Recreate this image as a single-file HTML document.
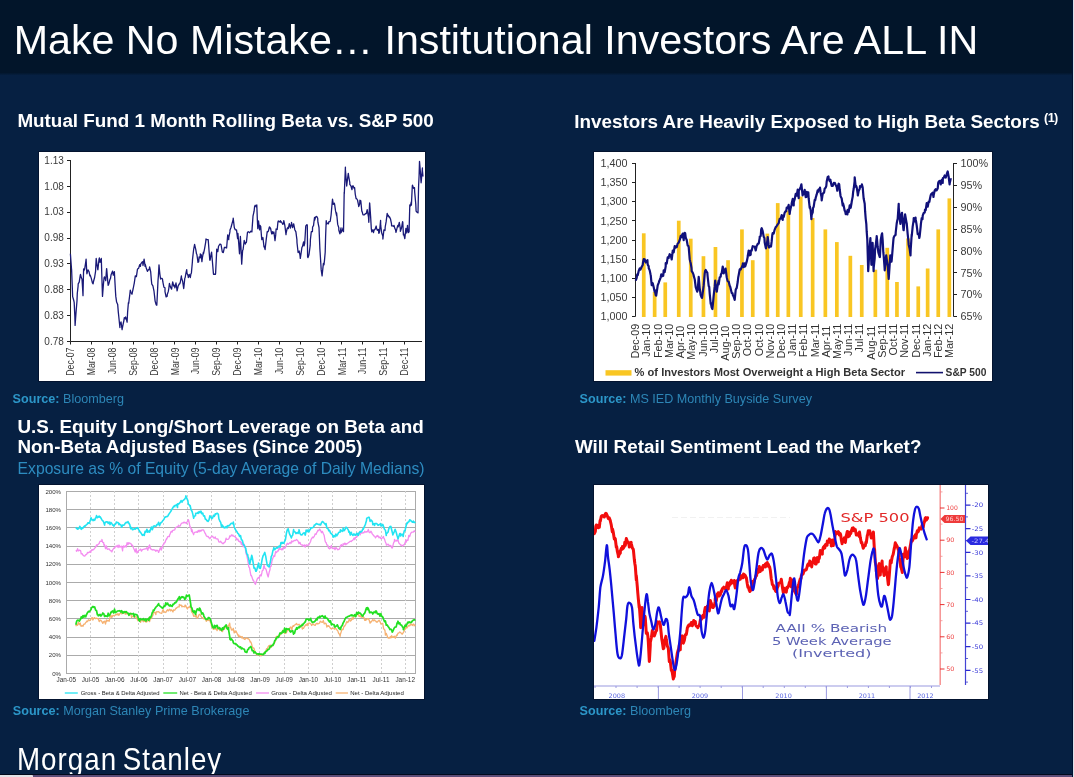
<!DOCTYPE html>
<html lang="en">
<head>
<meta charset="utf-8">
<title>Make No Mistake… Institutional Investors Are ALL IN</title>
<style>
html,body{margin:0;padding:0;}
body{width:1074px;height:777px;position:relative;overflow:hidden;background:#062042;font-family:"Liberation Sans",sans-serif;color:#fff;}
.hdr{position:absolute;left:0;top:0;width:1074px;height:76px;background:linear-gradient(#02152a 0,#02152a 72.5px,#062042 75.5px);}
.title{position:absolute;left:13.7px;top:17px;font-size:41.2px;line-height:46px;white-space:nowrap;color:#fff;letter-spacing:0px;}
.h2{position:absolute;font-weight:bold;font-size:18.85px;line-height:20.1px;white-space:nowrap;color:#fff;}
.sub{position:absolute;font-size:15.7px;line-height:17px;white-space:nowrap;color:#2d8cc0;}
.src{position:absolute;font-size:12.6px;line-height:14px;white-space:nowrap;color:#2d86b6;}
.src b{font-weight:bold;color:#2c96c8;}
.chart{position:absolute;background:#fff;overflow:hidden;box-shadow:0 0 0 0.8px rgba(0,6,28,.6);}
.aa{position:absolute;left:0;top:0;width:1074px;height:777px;will-change:transform;}
.chart svg{position:absolute;left:0;top:0;}
.logo{position:absolute;left:16.7px;top:741.4px;font-size:31.5px;line-height:36px;white-space:nowrap;color:#fff;transform-origin:0 0;transform:scaleX(0.88);word-spacing:-3.5px;letter-spacing:1.15px;}
.botline{position:absolute;left:0;top:773.8px;width:1074px;height:3.2px;background:linear-gradient(#010a1c 0,#010a1c 0.9px,#5c4d78 1.2px);}
.botline i{position:absolute;left:0;top:1px;width:32.5px;height:2.2px;background:#e2e2e6;border-radius:0 1px 0 0;}
.redge{position:absolute;left:1072px;top:0;width:2px;height:777px;background:linear-gradient(90deg,#011233 0,#011233 0.9px,#dde2ea 1.1px);}
</style>
</head>
<body>
<div class="hdr"></div>
<div class="aa">
<div class="title">Make No Mistake… Institutional Investors Are ALL IN</div>

<div class="h2" id="t1" style="left:17.4px;top:111.1px;">Mutual Fund 1 Month Rolling Beta vs. S&amp;P 500</div>
<div class="chart" id="c1" style="left:39px;top:152px;width:386px;height:229px;"><svg width="386" height="229" viewBox="39 152 386 229" font-family="Liberation Sans, sans-serif">
<path d="M70.5 160V341.5H422" fill="none" stroke="#222" stroke-width="1"/>
<text x="63.8" y="163.6" font-size="10" fill="#3a3a3a" text-anchor="end" font-weight="normal">1.13</text>
<text x="63.8" y="189.5" font-size="10" fill="#3a3a3a" text-anchor="end" font-weight="normal">1.08</text>
<text x="63.8" y="215.3" font-size="10" fill="#3a3a3a" text-anchor="end" font-weight="normal">1.03</text>
<text x="63.8" y="241.2" font-size="10" fill="#3a3a3a" text-anchor="end" font-weight="normal">0.98</text>
<text x="63.8" y="267" font-size="10" fill="#3a3a3a" text-anchor="end" font-weight="normal">0.93</text>
<text x="63.8" y="292.9" font-size="10" fill="#3a3a3a" text-anchor="end" font-weight="normal">0.88</text>
<text x="63.8" y="318.7" font-size="10" fill="#3a3a3a" text-anchor="end" font-weight="normal">0.83</text>
<text x="63.8" y="344.6" font-size="10" fill="#3a3a3a" text-anchor="end" font-weight="normal">0.78</text>
<text transform="translate(74.2 347.6) rotate(-90)" font-size="10.6" fill="#3a3a3a" text-anchor="end" font-weight="normal" textLength="28.2" lengthAdjust="spacingAndGlyphs">Dec-07</text>
<text transform="translate(95.1 347.6) rotate(-90)" font-size="10.6" fill="#3a3a3a" text-anchor="end" font-weight="normal" textLength="27.7" lengthAdjust="spacingAndGlyphs">Mar-08</text>
<text transform="translate(115.9 347.6) rotate(-90)" font-size="10.6" fill="#3a3a3a" text-anchor="end" font-weight="normal" textLength="26.7" lengthAdjust="spacingAndGlyphs">Jun-08</text>
<text transform="translate(136.8 347.6) rotate(-90)" font-size="10.6" fill="#3a3a3a" text-anchor="end" font-weight="normal" textLength="28.2" lengthAdjust="spacingAndGlyphs">Sep-08</text>
<text transform="translate(157.7 347.6) rotate(-90)" font-size="10.6" fill="#3a3a3a" text-anchor="end" font-weight="normal" textLength="28.2" lengthAdjust="spacingAndGlyphs">Dec-08</text>
<text transform="translate(178.6 347.6) rotate(-90)" font-size="10.6" fill="#3a3a3a" text-anchor="end" font-weight="normal" textLength="27.7" lengthAdjust="spacingAndGlyphs">Mar-09</text>
<text transform="translate(199.4 347.6) rotate(-90)" font-size="10.6" fill="#3a3a3a" text-anchor="end" font-weight="normal" textLength="26.7" lengthAdjust="spacingAndGlyphs">Jun-09</text>
<text transform="translate(220.3 347.6) rotate(-90)" font-size="10.6" fill="#3a3a3a" text-anchor="end" font-weight="normal" textLength="28.2" lengthAdjust="spacingAndGlyphs">Sep-09</text>
<text transform="translate(241.2 347.6) rotate(-90)" font-size="10.6" fill="#3a3a3a" text-anchor="end" font-weight="normal" textLength="28.2" lengthAdjust="spacingAndGlyphs">Dec-09</text>
<text transform="translate(262 347.6) rotate(-90)" font-size="10.6" fill="#3a3a3a" text-anchor="end" font-weight="normal" textLength="27.7" lengthAdjust="spacingAndGlyphs">Mar-10</text>
<text transform="translate(282.9 347.6) rotate(-90)" font-size="10.6" fill="#3a3a3a" text-anchor="end" font-weight="normal" textLength="26.7" lengthAdjust="spacingAndGlyphs">Jun-10</text>
<text transform="translate(303.8 347.6) rotate(-90)" font-size="10.6" fill="#3a3a3a" text-anchor="end" font-weight="normal" textLength="28.2" lengthAdjust="spacingAndGlyphs">Sep-10</text>
<text transform="translate(324.6 347.6) rotate(-90)" font-size="10.6" fill="#3a3a3a" text-anchor="end" font-weight="normal" textLength="28.2" lengthAdjust="spacingAndGlyphs">Dec-10</text>
<text transform="translate(345.5 347.6) rotate(-90)" font-size="10.6" fill="#3a3a3a" text-anchor="end" font-weight="normal" textLength="27.7" lengthAdjust="spacingAndGlyphs">Mar-11</text>
<text transform="translate(366.4 347.6) rotate(-90)" font-size="10.6" fill="#3a3a3a" text-anchor="end" font-weight="normal" textLength="26.7" lengthAdjust="spacingAndGlyphs">Jun-11</text>
<text transform="translate(387.2 347.6) rotate(-90)" font-size="10.6" fill="#3a3a3a" text-anchor="end" font-weight="normal" textLength="28.2" lengthAdjust="spacingAndGlyphs">Sep-11</text>
<text transform="translate(408.1 347.6) rotate(-90)" font-size="10.6" fill="#3a3a3a" text-anchor="end" font-weight="normal" textLength="28.2" lengthAdjust="spacingAndGlyphs">Dec-11</text>
<path d="M67 160.5H70.5M67 186.5H70.5M67 212.5H70.5M67 238.5H70.5M67 263.5H70.5M67 289.5H70.5M67 315.5H70.5M67 341.5H70.5M70.5 341.5V344.5M91.5 341.5V344.5M112.5 341.5V344.5M133.5 341.5V344.5M153.5 341.5V344.5M174.5 341.5V344.5M195.5 341.5V344.5M216.5 341.5V344.5M237.5 341.5V344.5M258.5 341.5V344.5M279.5 341.5V344.5M300.5 341.5V344.5M320.5 341.5V344.5M341.5 341.5V344.5M362.5 341.5V344.5M383.5 341.5V344.5M404.5 341.5V344.5" fill="none" stroke="#222" stroke-width="1"/>
<path d="M70.4 253.8 L71.5 268.8 L71.6 269.6 L72.6 295.4 L72.6 296.4 L73.7 300.2 L74.2 302.7 L74.8 315.4 L75.1 325.4 L75.9 314.1 L77 300.7 L77.3 293.2 L78.1 286.1 L78.2 283.8 L79.2 282.1 L80.3 275.2 L80.5 274.3 L81.4 277.9 L82 279 L82.5 286.9 L83 295.7 L83.6 269 L83.6 271.1 L84.7 268.9 L85.8 261.5 L86.1 259.2 L86.8 272.7 L86.9 273.8 L88 269.8 L89.1 271.8 L89.9 275.9 L90.2 275.1 L91.3 278.4 L92.4 282.9 L93.1 283.8 L93.5 281.5 L94.6 277.5 L95.6 271.1 L95.7 268 L96.2 258.5 L96.8 263.4 L97.8 269.6 L97.9 269.8 L99 259.3 L99.4 257.9 L100.1 262.4 L101.2 258.9 L101.3 258.5 L102.3 291 L102.5 296.4 L103.4 284.4 L104.1 277.5 L104.5 276.9 L105.6 279.8 L105.7 280.6 L106.6 268.6 L106.7 268.8 L107.8 282.1 L108.2 285.3 L108.9 283.7 L110 279.2 L110.4 279 L111.1 274.7 L112.2 272 L112.6 271.1 L113.3 275.2 L114.4 271.6 L114.5 274.3 L115.5 292 L115.8 296.4 L116.6 302.1 L117.7 304.6 L118.3 312.1 L118.8 316.7 L119.9 327.5 L119.9 324.8 L121 321.9 L122.1 329.7 L122.1 329.5 L123.2 323.8 L124 320 L124.3 317.6 L125.4 318.8 L125.6 316.9 L126.5 319.5 L127.1 322.2 L127.6 312.2 L128.4 302.7 L128.7 303.4 L129.8 294.5 L130.3 290.1 L130.9 292.5 L132 294.2 L132.5 291.6 L133.1 289 L134.1 283.8 L134.2 283.6 L135.3 275.9 L136.4 276.6 L137.2 271.1 L137.5 269 L138.6 268.4 L139.7 264.7 L140.4 266.4 L140.8 263.9 L141.9 262.3 L142.6 261.7 L143 265.5 L144.1 259.2 L145.1 266.4 L145.2 264.2 L146.3 268.3 L147.4 271.3 L148.5 269.7 L149.2 269.6 L149.6 266.9 L150.7 272 L151.4 280.6 L151.8 284.2 L152.9 285.8 L154 291.2 L154.6 296.4 L155.1 301.1 L156.2 304.8 L156.8 305.2 L157.3 295.6 L158 280.6 L158.4 275.7 L159 264.8 L159.5 270.6 L159.9 274.3 L160.6 279 L161.7 278.3 L162.5 279 L162.8 281.7 L163.9 287.2 L165 287.8 L165 291.6 L166.1 296.9 L167.2 296.2 L167.2 294.8 L168.3 291.4 L168.8 288.5 L169.4 283.5 L170.5 287.1 L171.6 289.1 L171.9 286.9 L172.7 281.9 L173.8 286.2 L174.4 285.3 L174.9 287.9 L176 283 L176.6 286.9 L177.1 290.9 L178.2 285.8 L179.3 283.9 L179.8 283.8 L180.4 281.7 L181.4 275.9 L181.5 277.6 L182.6 281.1 L183.7 288.5 L183.9 286.9 L184.8 278.3 L185.2 277.5 L185.9 273.4 L186.7 269.6 L187 273.2 L188.1 275.8 L188.3 277.5 L189.2 274.4 L190.3 277.6 L190.8 274.3 L191.4 272.9 L192.4 261.7 L192.5 259.6 L193.6 249.7 L194.6 244.3 L194.7 244.8 L195.8 249.7 L196.5 253.8 L196.9 254.5 L198 262.4 L198.7 261.7 L199.1 256.9 L200.2 257.9 L200.3 253.8 L201.3 255 L201.9 261.7 L202.4 257.6 L203.4 252.2 L203.5 253.8 L204.6 248.6 L205.7 242.1 L206 239 L206.8 239.7 L207.9 239.7 L208.2 239.6 L209 250.2 L209.8 260.1 L210.1 260.1 L211.2 253.6 L211.6 252.2 L212.3 260.2 L213.4 273.4 L213.5 274.3 L214.5 274.1 L215.4 274.3 L215.6 273.4 L216.7 250.5 L216.7 249.1 L217.8 251.7 L218.6 245.9 L218.9 245.6 L220 244 L220.8 244.3 L221.1 245 L222.2 251.3 L222.4 252.2 L223.3 252.6 L224.4 247.3 L224.9 247.5 L225.5 247.4 L226.6 248 L227.7 235 L228.7 239.6 L228.8 237.7 L229.9 231.9 L230 230.1 L231 227.5 L232.1 223.3 L233.2 219.1 L233.2 218.1 L234.3 227.5 L234.7 228.6 L235.4 229.8 L236.5 229.9 L237.6 238.7 L237.9 233.3 L238.7 243.1 L239.5 253.8 L239.8 247 L240.4 236.5 L240.9 246.6 L241.7 264.2 L242 259.4 L242.6 250.6 L243.1 249.5 L244.2 240.5 L245.3 244.1 L245.8 242.8 L246.4 242.4 L247.5 232.2 L248.3 231.7 L248.6 232 L249.7 232.7 L250.8 231.2 L251.9 231.9 L252.1 228.6 L253 216.2 L254.1 211.2 L254.6 206.5 L255.2 205.3 L256.3 206.9 L256.8 204.9 L257.4 221.1 L257.8 228.6 L258.5 220.9 L259.6 229.8 L260 225.4 L260.7 226.3 L261.5 236.5 L261.8 239.7 L262.9 237.5 L264 246.8 L264.1 245.9 L265.1 249.7 L265.3 247.5 L266.2 239.6 L267.2 231.7 L267.3 232.2 L268.4 231 L269.4 227 L269.5 227 L270.6 228.5 L271.7 233.9 L272.6 231.7 L272.8 233.6 L273.9 232 L275 240.6 L275.7 234.9 L276.1 229 L277.2 229.5 L277.9 222.3 L278.3 220.9 L279.4 221.9 L280.5 220.7 L280.5 222.2 L281.6 222 L282.7 224.3 L283.6 223.8 L283.8 220.6 L284.9 225.8 L286 234.6 L286.1 233.3 L287.1 228.7 L288.2 227.1 L288.3 228.6 L289.3 223.7 L290.4 228 L291.5 223.3 L291.5 222.3 L292.6 227.6 L293.7 223.8 L294.6 228.6 L294.8 229.7 L295.9 231.9 L296.9 239.6 L297 242.8 L298.1 252.5 L298.4 252.2 L299.2 251 L300 255.4 L300.3 258.4 L301.4 251.2 L301.9 247.5 L302.5 246.4 L303.6 241.9 L304.1 245.9 L304.7 243.3 L305.7 227 L305.8 225.9 L306.9 224.6 L307.3 225.4 L307.6 257 L308 257.6 L308.8 255.4 L309.1 253.8 L310.2 245.4 L310.4 239.6 L311.3 231.7 L312.4 231.7 L312.6 227 L313.5 225.6 L314.5 217.5 L314.6 220.3 L315.7 216.8 L316.8 216.5 L317.7 218.2 L317.9 222.2 L318.9 227 L319 227.5 L319.9 249.1 L320.1 252.2 L320.8 263.3 L321.2 269.9 L322.1 275.9 L322.3 273.6 L323.4 263.4 L324 264.8 L324.5 260.1 L325.2 252.2 L325.6 237 L326.2 220.7 L326.7 224.1 L327.8 223.1 L328.4 223.8 L328.9 221.6 L330 221.5 L330.3 220.7 L331.1 215 L332.2 202.2 L332.5 199.2 L333.3 204.3 L334.4 203.3 L334.7 204.9 L335.5 210.7 L336.6 215.6 L336.6 212.8 L337.7 224.4 L338.8 227.7 L338.8 230.1 L339.9 233.8 L341 227.8 L341 232.7 L342.1 230.7 L343.2 227.7 L343.5 231.7 L344.2 192.3 L344.3 193.7 L345.4 167.1 L345.4 169.6 L346.5 183.8 L346.7 186 L347.6 178.4 L348.3 173.4 L348.7 176.3 L349.8 182.6 L349.8 184.4 L350.9 185.9 L352 189.7 L352.4 186 L353.1 185.8 L354.2 188.6 L354.6 187.6 L355.3 194.5 L356.1 198.6 L356.4 198.4 L357.5 200 L358.6 205.4 L358.7 206.5 L359.7 204.1 L359.9 200.2 L360.8 200.8 L361.8 211.2 L361.9 210.8 L363 214.8 L364.1 214.8 L365 214.4 L365.2 213.7 L366.3 213.5 L367.2 209.6 L367.4 211.1 L368.5 217.2 L368.8 222.3 L369.6 203 L369.7 203.3 L370.7 217.9 L371.3 228.6 L371.8 231.8 L372.9 229.8 L373.5 232.7 L374 230.3 L375.1 229.2 L376.2 226 L376.6 228.6 L377.3 230.3 L378.4 229.5 L378.8 233.3 L379.5 232.1 L380.6 220.4 L380.7 225.4 L381.7 233 L382.8 236 L382.9 239 L383.9 229.9 L385 230.5 L385.2 227 L386.1 221.9 L387.2 213.3 L387.7 216 L388.3 215.2 L389.4 217.7 L389.6 216.9 L390.5 219 L391.5 223.8 L391.6 225.9 L392.7 225.9 L393.8 226.5 L394 225.4 L394.9 228.6 L395.6 230.1 L396 232.3 L397.1 227.9 L397.8 225.4 L398.2 226.8 L399.3 222.3 L400.3 228.6 L400.4 231.4 L401.5 228 L402.6 221.7 L402.8 222.3 L403.4 234.9 L403.7 233.9 L404.8 238.7 L405.9 228.4 L406 233.3 L407 230.4 L407.5 225.4 L408.1 232.7 L409.1 231.7 L409.2 226.8 L409.8 204.9 L410.3 206.1 L411.3 201.8 L411.4 205.1 L412.3 186 L412.5 185.1 L413.6 188.4 L414.5 187.6 L414.7 192.1 L415.8 204.4 L416.1 211.2 L416.9 212.2 L418 212.8 L418 212.9 L418.6 186 L419.1 175.2 L419.5 161.4 L420.2 169.6 L421.1 182.8 L421.3 180.9 L422.4 168 L422.4 170.2 L423 176.5" fill="none" stroke="#1a1a78" stroke-width="1.3" stroke-linejoin="round"/>
</svg></div>
<div class="src" id="s1" style="left:12.6px;top:391.7px;"><b>Source:</b> Bloomberg</div>

<div class="h2" id="t2" style="left:574.3px;top:111.5px;">Investors Are Heavily Exposed to High Beta Sectors<span style="font-size:12.6px;position:relative;top:-5.3px;left:4.4px;letter-spacing:-0.55px;">(1)</span></div>
<div class="chart" id="c2" style="left:594px;top:152px;width:398px;height:229px;"><svg width="398" height="229" viewBox="594 152 398 229" font-family="Liberation Sans, sans-serif">
<rect x="641.9" y="233.3" width="3.7" height="83.7" fill="#f9c623"/>
<rect x="652.8" y="292" width="3.7" height="25" fill="#f9c623"/>
<rect x="663.4" y="282.4" width="3.7" height="34.6" fill="#f9c623"/>
<rect x="676.9" y="220.7" width="3.7" height="96.3" fill="#f9c623"/>
<rect x="688.9" y="238.7" width="3.7" height="78.3" fill="#f9c623"/>
<rect x="701.6" y="256.2" width="3.7" height="60.8" fill="#f9c623"/>
<rect x="713.6" y="247" width="3.7" height="70" fill="#f9c623"/>
<rect x="726.2" y="260.2" width="3.7" height="56.8" fill="#f9c623"/>
<rect x="740.1" y="229.4" width="3.7" height="87.6" fill="#f9c623"/>
<rect x="750.9" y="260.2" width="3.7" height="56.8" fill="#f9c623"/>
<rect x="765.5" y="233.6" width="3.7" height="83.4" fill="#f9c623"/>
<rect x="775.9" y="203.1" width="3.7" height="113.9" fill="#f9c623"/>
<rect x="786.5" y="210.5" width="3.7" height="106.5" fill="#f9c623"/>
<rect x="798.9" y="196.5" width="3.7" height="120.5" fill="#f9c623"/>
<rect x="810.8" y="218" width="3.7" height="99" fill="#f9c623"/>
<rect x="823.5" y="229.4" width="3.7" height="87.6" fill="#f9c623"/>
<rect x="835" y="242.1" width="3.7" height="74.9" fill="#f9c623"/>
<rect x="848.5" y="255.8" width="3.7" height="61.2" fill="#f9c623"/>
<rect x="859.9" y="265" width="3.7" height="52" fill="#f9c623"/>
<rect x="873.5" y="269.7" width="3.7" height="47.3" fill="#f9c623"/>
<rect x="885.4" y="247.8" width="3.7" height="69.2" fill="#f9c623"/>
<rect x="895.1" y="282" width="3.7" height="35" fill="#f9c623"/>
<rect x="906.2" y="238.4" width="3.7" height="78.6" fill="#f9c623"/>
<rect x="916.4" y="286.4" width="3.7" height="30.6" fill="#f9c623"/>
<rect x="925.8" y="268.5" width="3.7" height="48.5" fill="#f9c623"/>
<rect x="936.4" y="229.4" width="3.7" height="87.6" fill="#f9c623"/>
<rect x="947.5" y="198.4" width="3.7" height="118.6" fill="#f9c623"/>
<text x="627.5" y="167.2" font-size="10.8" fill="#3a3a3a" text-anchor="end" font-weight="normal">1,400</text>
<text x="627.5" y="186.3" font-size="10.8" fill="#3a3a3a" text-anchor="end" font-weight="normal">1,350</text>
<text x="627.5" y="205.4" font-size="10.8" fill="#3a3a3a" text-anchor="end" font-weight="normal">1,300</text>
<text x="627.5" y="224.6" font-size="10.8" fill="#3a3a3a" text-anchor="end" font-weight="normal">1,250</text>
<text x="627.5" y="243.7" font-size="10.8" fill="#3a3a3a" text-anchor="end" font-weight="normal">1,200</text>
<text x="627.5" y="262.8" font-size="10.8" fill="#3a3a3a" text-anchor="end" font-weight="normal">1,150</text>
<text x="627.5" y="281.9" font-size="10.8" fill="#3a3a3a" text-anchor="end" font-weight="normal">1,100</text>
<text x="627.5" y="301.1" font-size="10.8" fill="#3a3a3a" text-anchor="end" font-weight="normal">1,050</text>
<text x="627.5" y="320.2" font-size="10.8" fill="#3a3a3a" text-anchor="end" font-weight="normal">1,000</text>
<text x="960.5" y="167.2" font-size="10.8" fill="#3a3a3a" text-anchor="start" font-weight="normal">100%</text>
<text x="960.5" y="189.1" font-size="10.8" fill="#3a3a3a" text-anchor="start" font-weight="normal">95%</text>
<text x="960.5" y="210.9" font-size="10.8" fill="#3a3a3a" text-anchor="start" font-weight="normal">90%</text>
<text x="960.5" y="232.8" font-size="10.8" fill="#3a3a3a" text-anchor="start" font-weight="normal">85%</text>
<text x="960.5" y="254.6" font-size="10.8" fill="#3a3a3a" text-anchor="start" font-weight="normal">80%</text>
<text x="960.5" y="276.5" font-size="10.8" fill="#3a3a3a" text-anchor="start" font-weight="normal">75%</text>
<text x="960.5" y="298.3" font-size="10.8" fill="#3a3a3a" text-anchor="start" font-weight="normal">70%</text>
<text x="960.5" y="320.2" font-size="10.8" fill="#3a3a3a" text-anchor="start" font-weight="normal">65%</text>
<path d="M635.5 163V316.5M953.5 163V316.5M632 163.5H635.5M632 182.5H635.5M632 201.5H635.5M632 220.5H635.5M632 240.5H635.5M632 259.5H635.5M632 278.5H635.5M632 297.5H635.5M632 316.5H635.5M953.5 163.5H957M953.5 185.5H957M953.5 207.5H957M953.5 229.5H957M953.5 250.5H957M953.5 272.5H957M953.5 294.5H957M953.5 316.5H957" fill="none" stroke="#222" stroke-width="1"/>
<text transform="translate(639.2 323.8) rotate(-90)" font-size="10.8" fill="#303030" text-anchor="end" font-weight="normal">Dec-09</text>
<text transform="translate(650.4 323.8) rotate(-90)" font-size="10.8" fill="#303030" text-anchor="end" font-weight="normal">Jan-10</text>
<text transform="translate(661.6 323.8) rotate(-90)" font-size="10.8" fill="#303030" text-anchor="end" font-weight="normal">Feb-10</text>
<text transform="translate(672.8 323.8) rotate(-90)" font-size="10.8" fill="#303030" text-anchor="end" font-weight="normal">Mar-10</text>
<text transform="translate(684 325.8) rotate(-90)" font-size="10.8" fill="#303030" text-anchor="end" font-weight="normal">Apr-10</text>
<text transform="translate(695.2 323.8) rotate(-90)" font-size="10.8" fill="#303030" text-anchor="end" font-weight="normal">May-10</text>
<text transform="translate(706.5 323.8) rotate(-90)" font-size="10.8" fill="#303030" text-anchor="end" font-weight="normal">Jun-10</text>
<text transform="translate(717.7 323.8) rotate(-90)" font-size="10.8" fill="#303030" text-anchor="end" font-weight="normal">Jul-10</text>
<text transform="translate(728.9 325.8) rotate(-90)" font-size="10.8" fill="#303030" text-anchor="end" font-weight="normal">Aug-10</text>
<text transform="translate(740.1 323.8) rotate(-90)" font-size="10.8" fill="#303030" text-anchor="end" font-weight="normal">Sep-10</text>
<text transform="translate(751.3 323.8) rotate(-90)" font-size="10.8" fill="#303030" text-anchor="end" font-weight="normal">Oct-10</text>
<text transform="translate(762.5 323.8) rotate(-90)" font-size="10.8" fill="#303030" text-anchor="end" font-weight="normal">Oct-10</text>
<text transform="translate(773.7 323.8) rotate(-90)" font-size="10.8" fill="#303030" text-anchor="end" font-weight="normal">Nov-10</text>
<text transform="translate(784.9 323.8) rotate(-90)" font-size="10.8" fill="#303030" text-anchor="end" font-weight="normal">Dec-10</text>
<text transform="translate(796.1 323.8) rotate(-90)" font-size="10.8" fill="#303030" text-anchor="end" font-weight="normal">Jan-11</text>
<text transform="translate(807.4 323.8) rotate(-90)" font-size="10.8" fill="#303030" text-anchor="end" font-weight="normal">Feb-11</text>
<text transform="translate(818.6 323.8) rotate(-90)" font-size="10.8" fill="#303030" text-anchor="end" font-weight="normal">Mar-11</text>
<text transform="translate(829.8 325.8) rotate(-90)" font-size="10.8" fill="#303030" text-anchor="end" font-weight="normal">Apr-11</text>
<text transform="translate(841 323.8) rotate(-90)" font-size="10.8" fill="#303030" text-anchor="end" font-weight="normal">May-11</text>
<text transform="translate(852.2 323.8) rotate(-90)" font-size="10.8" fill="#303030" text-anchor="end" font-weight="normal">Jun-11</text>
<text transform="translate(863.4 323.8) rotate(-90)" font-size="10.8" fill="#303030" text-anchor="end" font-weight="normal">Jul-11</text>
<text transform="translate(874.6 325.8) rotate(-90)" font-size="10.8" fill="#303030" text-anchor="end" font-weight="normal">Aug-11</text>
<text transform="translate(885.8 323.8) rotate(-90)" font-size="10.8" fill="#303030" text-anchor="end" font-weight="normal">Sep-11</text>
<text transform="translate(897 323.8) rotate(-90)" font-size="10.8" fill="#303030" text-anchor="end" font-weight="normal">Oct-11</text>
<text transform="translate(908.2 323.8) rotate(-90)" font-size="10.8" fill="#303030" text-anchor="end" font-weight="normal">Nov-11</text>
<text transform="translate(919.5 323.8) rotate(-90)" font-size="10.8" fill="#303030" text-anchor="end" font-weight="normal">Dec-11</text>
<text transform="translate(930.7 323.8) rotate(-90)" font-size="10.8" fill="#303030" text-anchor="end" font-weight="normal">Jan-12</text>
<text transform="translate(941.9 323.8) rotate(-90)" font-size="10.8" fill="#303030" text-anchor="end" font-weight="normal">Feb-12</text>
<text transform="translate(953.1 323.8) rotate(-90)" font-size="10.8" fill="#303030" text-anchor="end" font-weight="normal">Mar-12</text>
<path d="M635.7 280.6 L636.7 277.8 L637.3 274.3 L637.7 275.3 L638.7 270.9 L639.7 268.4 L640.5 269.6 L640.7 269.1 L641.7 266.8 L642.7 265 L643 262.3 L643.7 259.2 L644.7 259.4 L645.2 261.1 L645.7 262.5 L646.7 260.9 L647.4 260.1 L647.7 264.6 L648.7 266.4 L648.7 268 L649.7 270.4 L650.5 274.3 L650.7 274.8 L651.7 285.2 L652.4 283.8 L652.7 283.2 L653.7 287.2 L654.6 291.6 L654.7 289.9 L655.7 295 L656.2 295.7 L656.7 292.4 L657.5 286.9 L657.7 285.4 L658.7 282.8 L659.4 280.6 L659.7 280 L660.7 277.3 L661.3 274.3 L661.7 276.5 L662.7 275.5 L663.2 275.9 L663.7 270.4 L664.7 272 L665.7 266.4 L665.7 263.2 L666.7 263.6 L667.7 257.4 L668.7 257.9 L668.8 257 L669.7 254.2 L670.7 255.3 L671.7 259.5 L672.6 252.2 L672.7 250.7 L673.7 252.4 L674.7 246.1 L675.7 247.5 L676.7 245.9 L676.7 247.2 L677.7 243.5 L678.7 242.7 L679.7 239.9 L679.9 239.6 L680.7 235.9 L681.7 237.1 L682.1 234.9 L682.7 233.6 L683.7 240.2 L684 236.5 L684.7 232.8 L685.2 233.3 L685.7 237.4 L686.5 239.6 L686.7 240 L687.7 245.6 L688.4 245.9 L688.7 247.2 L689.7 259.2 L690.3 261.7 L690.7 263.2 L691.5 268 L691.7 271.1 L692.7 272.6 L693.4 274.3 L693.7 275.9 L694.7 279.2 L695.3 283.8 L695.7 287.2 L696.7 290.1 L697.2 291.6 L697.7 290.1 L698.7 276.8 L698.8 277.5 L699.7 288.1 L700.4 293.2 L700.7 295 L701.7 297.7 L702 297.9 L702.7 292.8 L703.5 286.9 L703.7 285.2 L704.7 273.7 L705.1 271.1 L705.7 269.9 L706.7 271.9 L707.3 272.7 L707.7 277 L708.7 286 L709.2 286.9 L709.7 293.5 L710.7 303.9 L710.8 302.7 L711.7 307.6 L712.4 309 L712.7 306.4 L713.6 296.4 L713.7 295.4 L714.7 286.7 L715.2 280.6 L715.7 287.4 L716.7 290.1 L716.8 291.6 L717.7 285 L718.7 280.6 L718.7 284.4 L719.7 277.3 L720.7 276.6 L720.9 274.3 L721.7 273.1 L722.7 266.6 L723.1 268 L723.7 273.3 L724.7 270.8 L725.6 268.6 L725.7 269.3 L726.7 277.2 L727.5 280.6 L727.7 281.1 L728.7 281.7 L729.7 285.7 L730.3 286.9 L730.7 288.7 L731.7 292.9 L732.5 293.2 L732.7 294.7 L733.7 296.7 L734.4 298.9 L734.7 299.9 L735.7 289.8 L736.3 288.5 L736.7 288 L737.7 282 L738.2 277.5 L738.7 275 L739.7 269.5 L740.7 268.5 L740.7 269.6 L741.7 267.4 L742.7 264.8 L742.9 263.3 L743.7 267.1 L744.7 263.3 L745.2 266.4 L745.7 264.8 L746.7 261.7 L747.7 257 L747.7 256.3 L748.7 250.5 L749.7 255.3 L750.7 254.8 L750.8 250.6 L751.7 250.6 L752.7 246.2 L753.7 246.5 L754 246.5 L754.7 246.7 L755.7 250.5 L756.7 245.7 L757.1 245.3 L757.7 243.8 L758.7 243.6 L759.7 238 L759.7 236.9 L760.7 236 L761.2 229.5 L761.7 228.2 L762.7 231.1 L762.8 231.7 L763.7 236.8 L764.4 238 L764.7 242.6 L765.7 247.6 L766 248.4 L766.7 244.6 L767.5 239.6 L767.7 237 L768.7 244.9 L769.1 247.5 L769.7 246.2 L770.7 245.9 L771 246.5 L771.7 241.2 L772.3 234.9 L772.7 233 L773.7 233.5 L774.7 229.6 L775.7 227.1 L776.1 227 L776.7 226 L777.7 224.4 L778.7 223.1 L779.2 220.7 L779.7 218.8 L780.7 218.6 L781.7 215 L782.7 219.9 L783 216 L783.7 216.9 L784.7 212.6 L785.7 211.1 L786.2 211.2 L786.7 207.6 L787.7 208.1 L788.7 204.9 L788.7 205.4 L789.7 214 L790 211.2 L790.7 208 L791.6 204.9 L791.7 203.3 L792.7 198.9 L793.7 205.4 L793.8 201.8 L794.7 199.1 L795.7 193.9 L796.3 195.5 L796.7 195.6 L797.7 189.6 L798.7 198.2 L798.8 190.7 L799.7 189.2 L800.7 186.9 L801.4 184.4 L801.7 187.2 L802.6 195.5 L802.7 191.3 L803.7 194.2 L804.5 192.3 L804.7 189.8 L805.7 197.1 L806.4 197 L806.7 191.8 L807.7 192.9 L808.3 192.3 L808.7 198.7 L809.7 207.9 L809.9 206.5 L810.7 210.6 L811.4 219.1 L811.7 214.8 L812.7 212.3 L813 208.1 L813.7 206.7 L814.7 199.9 L815.2 200.2 L815.7 197.7 L816.7 194.4 L817.7 190.3 L817.8 192.3 L818.7 189.3 L819.7 190.6 L820 187.6 L820.7 193 L821.5 197 L821.7 200.4 L822.7 193.9 L823.7 192.9 L824.1 192.3 L824.7 188.5 L825.7 187.7 L826.3 186 L826.7 181.5 L827.7 176.9 L828.5 176.5 L828.7 178.9 L829.7 181 L830.4 179.7 L830.7 181.8 L831.7 185.9 L832.6 186 L832.7 185.8 L833.7 183 L834.7 183.4 L834.8 182.8 L835.7 185 L836.7 187 L837.3 190.7 L837.7 186.5 L838.7 183.7 L839.2 184.4 L839.7 189.5 L840.5 195.5 L840.7 196.5 L841.7 198.5 L842.7 205.5 L843 203.3 L843.7 205.8 L844.7 210.7 L845.2 211.2 L845.7 214.1 L846.7 211.4 L847.4 214.4 L847.7 209.9 L848.7 212 L849.3 208.1 L849.7 205.4 L850.7 207.8 L851.5 203.3 L851.7 201.8 L852.7 196.6 L853.1 192.3 L853.7 188.8 L854.6 181.3 L854.7 177.3 L855.7 186.7 L856.2 186 L856.7 187.3 L857.7 193.9 L857.8 195.5 L858.7 190.9 L859.7 188.8 L860 186 L860.7 186.8 L861.7 186.2 L861.9 184.4 L862.7 187.5 L863.5 197 L863.7 198.8 L864.7 203.8 L865.1 211.2 L865.7 218.6 L866.3 223.8 L866.7 231.7 L867.3 239.6 L867.7 253.4 L868.2 271.1 L868.7 262.9 L869.5 249.1 L869.7 246.4 L870.4 238 L870.7 248.7 L871.4 264.8 L871.7 256.5 L872.6 242.8 L872.7 244.7 L873.6 271.1 L873.7 267.7 L874.7 258.5 L875.1 249.1 L875.7 245.8 L876.7 236.5 L876.7 236 L877.7 247 L878.3 252.2 L878.7 253.6 L879.7 256.9 L879.9 257 L880.7 240.9 L880.8 239.6 L881.7 234.5 L882.1 233.3 L882.7 240.7 L883.3 252.2 L883.7 256.2 L884.6 268 L884.7 270.3 L885.7 259.4 L886.2 255.4 L886.7 259.2 L887.7 265.8 L887.8 266.4 L888.7 279 L888.7 278.9 L889.7 264.4 L890.3 255.4 L890.7 256.2 L891.5 261.7 L891.7 260.2 L892.7 248.2 L893.4 239.6 L893.7 237.5 L894.7 235.6 L895.6 234.9 L895.7 232.5 L896.7 223.5 L897.2 220.7 L897.7 218.7 L898.7 203.8 L898.8 208.1 L899.7 217.8 L900.4 223.8 L900.7 220.1 L901.7 213.5 L902 212.8 L902.7 221.7 L903.5 230.1 L903.7 230.2 L904.7 217.9 L905.1 214.4 L905.7 217.9 L906.7 223.8 L906.7 223.2 L907.7 234.3 L908.3 239.6 L908.7 244.7 L909.7 249 L910.5 255.4 L910.7 249.5 L911.7 234.5 L911.7 236.5 L912.7 226.4 L913.6 220.7 L913.7 218.2 L914.7 221.4 L915.5 217.5 L915.7 219.2 L916.7 225.5 L917.1 228.6 L917.7 234.2 L918.7 233.8 L919.3 238 L919.7 236 L920.7 226.3 L920.9 223.8 L921.7 218.1 L922.5 219.1 L922.7 215.7 L923.7 213 L924.7 212.6 L925 209.6 L925.7 210.1 L926.7 203.1 L927.2 204.9 L927.7 206.7 L928.7 201.5 L929.4 201.8 L929.7 199.9 L930.7 195.2 L931.3 193.9 L931.7 194.1 L932.7 192.6 L933.5 197 L933.7 195 L934.7 190.5 L935.7 189.2 L935.7 190.4 L936.7 190.3 L937.7 188.5 L938.2 182.8 L938.7 181.6 L939.7 180.8 L940.7 184.2 L940.7 184.4 L941.7 179.9 L942.7 182.9 L942.9 178.1 L943.7 177.8 L944.7 175.4 L945.2 176.5 L945.7 177.6 L946.7 174.5 L947 173.4 L947.7 171.5 L948.6 176.5 L948.7 177 L949.6 184.4 L949.7 183.3 L950.7 178.8 L950.8 178.1" fill="none" stroke="#10107a" stroke-width="2.2" stroke-linejoin="round"/>
<rect x="605.5" y="370.2" width="26" height="5.4" fill="#f9c623"/>
<text x="634.6" y="375.7" font-size="10.2" fill="#333" text-anchor="start" font-weight="bold" textLength="270.5" lengthAdjust="spacingAndGlyphs">% of Investors Most Overweight a High Beta Sector</text>
<path d="M916 372.6H943" stroke="#12126e" stroke-width="1.6"/>
<text x="945.6" y="375.7" font-size="10.2" fill="#333" text-anchor="start" font-weight="bold" textLength="40.8" lengthAdjust="spacingAndGlyphs">S&amp;P 500</text>
</svg></div>
<div class="src" id="s2" style="left:579.6px;top:391.7px;"><b>Source:</b> MS IED Monthly Buyside Survey</div>

<div class="h2" id="t3" style="left:17.5px;top:416.5px;">U.S. Equity Long/Short Leverage on Beta and<br>Non-Beta Adjusted Bases (Since 2005)</div>
<div class="sub" id="u3" style="left:17.6px;top:459.7px;">Exposure as % of Equity (5-day Average of Daily Medians)</div>
<div class="chart" id="c3" style="left:39px;top:485px;width:385.4px;height:214px;"><svg width="386" height="214" viewBox="39 485 386 214" font-family="Liberation Sans, sans-serif">
<text x="61" y="493.6" font-size="6.1" fill="#333" text-anchor="end" font-weight="normal">200%</text>
<text x="61" y="511.8" font-size="6.1" fill="#333" text-anchor="end" font-weight="normal">180%</text>
<text x="61" y="530" font-size="6.1" fill="#333" text-anchor="end" font-weight="normal">160%</text>
<text x="61" y="548.2" font-size="6.1" fill="#333" text-anchor="end" font-weight="normal">140%</text>
<text x="61" y="566.4" font-size="6.1" fill="#333" text-anchor="end" font-weight="normal">120%</text>
<text x="61" y="584.6" font-size="6.1" fill="#333" text-anchor="end" font-weight="normal">100%</text>
<text x="61" y="602.8" font-size="6.1" fill="#333" text-anchor="end" font-weight="normal">80%</text>
<text x="61" y="621" font-size="6.1" fill="#333" text-anchor="end" font-weight="normal">60%</text>
<text x="61" y="639.2" font-size="6.1" fill="#333" text-anchor="end" font-weight="normal">40%</text>
<text x="61" y="657.4" font-size="6.1" fill="#333" text-anchor="end" font-weight="normal">20%</text>
<text x="61" y="675.6" font-size="6.1" fill="#333" text-anchor="end" font-weight="normal">0%</text>
<path d="M66.5 491.5H415.5M66.5 509.5H415.5M66.5 527.5H415.5M66.5 546.5H415.5M66.5 564.5H415.5M66.5 582.5H415.5M66.5 600.5H415.5M66.5 618.5H415.5M66.5 637.5H415.5M66.5 655.5H415.5M66.5 673.5H415.5" fill="none" stroke="#ababab" stroke-width="1"/>
<path d="M66.5 491V674M415.5 491V674" fill="none" stroke="#ababab" stroke-width="1"/>
<text x="66.3" y="682.3" font-size="6.4" fill="#333" text-anchor="middle" font-weight="normal">Jan-05</text>
<text x="90.5" y="682.3" font-size="6.4" fill="#333" text-anchor="middle" font-weight="normal">Jul-05</text>
<text x="114.7" y="682.3" font-size="6.4" fill="#333" text-anchor="middle" font-weight="normal">Jan-06</text>
<text x="138.9" y="682.3" font-size="6.4" fill="#333" text-anchor="middle" font-weight="normal">Jul-06</text>
<text x="163.1" y="682.3" font-size="6.4" fill="#333" text-anchor="middle" font-weight="normal">Jan-07</text>
<text x="187.4" y="682.3" font-size="6.4" fill="#333" text-anchor="middle" font-weight="normal">Jul-07</text>
<text x="211.6" y="682.3" font-size="6.4" fill="#333" text-anchor="middle" font-weight="normal">Jan-08</text>
<text x="235.8" y="682.3" font-size="6.4" fill="#333" text-anchor="middle" font-weight="normal">Jul-08</text>
<text x="260" y="682.3" font-size="6.4" fill="#333" text-anchor="middle" font-weight="normal">Jan-09</text>
<text x="284.2" y="682.3" font-size="6.4" fill="#333" text-anchor="middle" font-weight="normal">Jul-09</text>
<text x="308.4" y="682.3" font-size="6.4" fill="#333" text-anchor="middle" font-weight="normal">Jan-10</text>
<text x="332.6" y="682.3" font-size="6.4" fill="#333" text-anchor="middle" font-weight="normal">Jul-10</text>
<text x="356.8" y="682.3" font-size="6.4" fill="#333" text-anchor="middle" font-weight="normal">Jan-11</text>
<text x="381" y="682.3" font-size="6.4" fill="#333" text-anchor="middle" font-weight="normal">Jul-11</text>
<text x="405.2" y="682.3" font-size="6.4" fill="#333" text-anchor="middle" font-weight="normal">Jan-12</text>
<path d="M90.5 491V673M114.5 491V673M138.5 491V673M163.5 491V673M187.5 491V673M211.5 491V673M235.5 491V673M259.5 491V673M284.5 491V673M308.5 491V673M332.5 491V673M356.5 491V673M381.5 491V673M405.5 491V673" fill="none" stroke="#cfcfcf" stroke-width="1" stroke-dasharray="2 2"/>
<path d="M75.8 550.4 L76.7 551.3 L77.6 548.7 L77.8 549.5 L78.5 550.9 L79.4 550.1 L80.3 550.5 L80.7 551 L81.2 553.8 L82.1 553.7 L83 555.2 L83 555.3 L83.9 555.9 L84.8 556.1 L85.6 554.7 L85.7 554.7 L86.6 554.6 L87.5 552.4 L87.9 553 L88.4 552.5 L89.3 552.3 L90.2 551.2 L90.8 552.4 L91.1 550.7 L92 549.7 L92.9 550.1 L93.7 549.5 L93.8 549.3 L94.7 548.1 L95.6 547.4 L96.5 544.9 L96.6 546 L97.4 545 L98.3 544.2 L99.2 543.5 L99.5 542.3 L100.1 541.2 L101 541.3 L101.8 541.4 L101.9 539.5 L102.8 542.6 L103.7 542.6 L103.9 545.2 L104.6 544.8 L105.5 548.6 L105.9 548.1 L106.4 546 L107.3 549.3 L108.2 549.1 L108.8 548.9 L109.1 548.8 L110 550.2 L110.9 550.9 L111.7 551 L111.8 551.9 L112.7 549.8 L113.6 548.5 L114.5 547.6 L114.6 548.1 L115.4 546.4 L116.3 546.6 L116.9 546 L117.2 545.4 L118.1 547.6 L119 545 L119.8 547.2 L119.9 546.2 L120.8 546.8 L121.7 546.2 L122.6 550.8 L122.7 548.9 L123.5 545.8 L124.4 547 L125.3 545.8 L125.6 546 L126.2 547.1 L127.1 542.6 L128 544.7 L128.5 543.2 L128.9 542.6 L129.8 543.5 L130.7 543.4 L131.4 544.3 L131.6 545.3 L132.5 545.1 L133.4 547.8 L134.3 549.8 L134.3 549.5 L135.2 552.1 L136.1 548.5 L137 553.2 L137.2 551.8 L137.9 552.2 L138.8 550.1 L139.7 550.2 L140.1 549.5 L140.6 549.1 L141.5 551.2 L142.4 549.7 L143 549.5 L143.3 549.3 L144.2 549.1 L145.1 548.9 L145.9 548.9 L146 548.7 L146.9 547.8 L147.8 550.4 L148.7 546.2 L148.8 548.1 L149.6 544.9 L150.5 548.8 L151.4 549.2 L151.7 549.5 L152.3 550 L153.2 549.6 L154.1 549.8 L155 550.4 L155.1 550.1 L155.9 551.3 L156.8 550.1 L157.7 550.5 L158 551 L158.6 552.4 L159.5 550.1 L160.4 547.7 L160.9 548.1 L161.3 550 L162.2 547.3 L163.1 544.7 L163.8 544.3 L164 542.9 L164.9 542.8 L165.8 540.2 L166.7 538.4 L166.7 539.4 L167.6 536.8 L168.5 536.3 L169.4 536.5 L169.6 535 L170.3 533.6 L171.2 531.3 L172.1 532 L172.5 530.7 L173 530.3 L173.9 530.2 L174.8 529.7 L175.4 527.8 L175.7 527.5 L176.6 527.1 L177.5 526.7 L178.3 526.3 L178.4 525.2 L179.3 526.1 L180.2 525.9 L181.1 523.8 L181.2 523.5 L182 523.1 L182.9 522.9 L183.8 522.2 L184.1 522.9 L184.7 522.2 L185.6 522.8 L186.4 523.5 L186.5 522.6 L187.4 521.8 L188.3 519.6 L188.7 520.6 L189.2 523 L189.9 526.3 L190.1 526.9 L191 528.4 L191.6 531.6 L191.9 529.5 L192.8 532.7 L193.7 534.7 L193.7 533.6 L194.6 532.4 L195.5 532.2 L196.4 531.7 L196.6 532.1 L197.3 532.4 L198.2 530.4 L199.1 531.9 L199.5 530.7 L200 530.2 L200.9 531.2 L201.8 530 L202.4 529.8 L202.7 530 L203.6 529.9 L204.5 531.9 L205.3 533.6 L205.4 533.5 L206.3 535.7 L207.2 536.6 L207.3 536.5 L208.1 536.3 L209 537.9 L209.6 537.9 L209.9 538.8 L210.8 537.2 L211.7 536.5 L212.5 536.5 L212.6 536.1 L213.5 537.8 L214.4 538 L215.3 536.9 L215.4 537.9 L216.2 538.9 L217.1 538.8 L218 539.2 L218.3 540.3 L218.9 541.9 L219.8 542.1 L220.7 541.2 L221.2 542.3 L221.6 542.6 L222.5 543.6 L223.4 543 L223.5 543.7 L224.3 542.5 L225.2 541.9 L226.1 538.1 L226.4 539.4 L227 539.4 L227.9 539.4 L228.8 538.7 L229.3 537.9 L229.7 535.8 L230 536.5 L230.6 536.5 L231.5 534.9 L232.4 535.9 L232.9 535 L233.3 536 L234.2 536.5 L235.1 536.4 L235.8 537.9 L236 537.5 L236.9 539.9 L237.8 539 L238.7 541.3 L238.7 540.8 L239.6 541.8 L240.5 541.4 L241.4 544.6 L241.6 542.3 L242.3 543.4 L243.2 546.8 L244.1 544 L244.5 546.6 L245 546.2 L245.9 552.8 L246.8 555.8 L246.8 555.3 L247.7 560 L248.6 565.4 L248.8 566.9 L249.5 567.7 L250.4 572.9 L250.9 575.6 L251.3 575.3 L252.2 577.8 L253.1 580.6 L253.2 579.9 L254 581.5 L254.9 583.5 L255.5 584.3 L255.8 582.8 L256.7 580.5 L257.5 578.5 L257.6 578.6 L258.5 577.5 L259.4 578.4 L259.5 577 L260.3 574.8 L261.2 575.9 L261.9 572.7 L262.1 571.1 L263 570.3 L263.9 565.7 L264.2 565.5 L264.8 568.4 L265.7 568.8 L266.2 569.8 L266.6 571.5 L267.5 575 L268.2 577 L268.4 575.9 L269.3 571.7 L270 569.8 L270.2 566.9 L271.1 566.3 L272 560.6 L272 561.1 L272.9 558 L273.8 556 L274 555.3 L274.7 556.5 L275.6 551.7 L276.3 552.4 L276.5 552.6 L277.4 551 L278.3 551 L279.2 547.8 L279.2 549.5 L280.1 548.7 L281 549.5 L281.9 549.8 L282.1 548.1 L282.8 549.7 L283.7 547.2 L284.6 548.1 L285 548.1 L285.5 547.3 L286.4 544.7 L287.3 543.3 L287.9 543.7 L288.2 544.4 L289.1 543.4 L290 542.6 L290.8 542.3 L290.9 543.5 L291.8 540.8 L292.7 541.9 L293.6 540.9 L293.7 540.8 L294.5 540.4 L295.4 540.5 L296.3 539.7 L296.6 539.4 L297.2 540.2 L298.1 541.1 L299 543.7 L299.5 542.3 L299.9 542.3 L300.8 544.5 L301.7 545 L302.4 545.2 L302.6 544.9 L303.5 546.3 L304.4 544.9 L305.3 547.2 L305.3 546 L306.2 545 L307.1 545 L308 545.6 L308.2 545.2 L308.9 544.7 L309.8 543 L310.7 541.2 L311.1 539.4 L311.6 538.7 L312.5 537.1 L313.4 537.7 L314 536.5 L314.3 536.4 L315.2 533.8 L316.1 534.4 L316.9 532.1 L317 532.3 L317.9 530.2 L318.8 530.7 L319.2 529.8 L319.7 529 L320.6 530.5 L321.3 532.1 L321.5 532.7 L322.4 531.4 L323.3 533.6 L323.3 533.6 L324.2 535.6 L325.1 541 L325.6 542.3 L326 542.3 L326.9 545 L327.8 545.1 L328.5 548.1 L328.7 547.7 L329.6 548.7 L330.5 547.9 L331.4 545.4 L331.4 547.2 L332.3 548.4 L333.2 548.6 L334.1 547.6 L334.3 548.1 L335 549.7 L335.9 547.5 L336.8 548.7 L337.2 548.9 L337.7 549.8 L338.6 549.4 L339.5 548.9 L340.1 547.2 L340.4 545.9 L341.3 544.6 L342.2 546.1 L343 545.2 L343.1 543.7 L344 544.6 L344.9 543 L345.8 544.8 L345.9 543.7 L346.7 544.1 L347.6 543.4 L348.5 542.5 L348.8 542.3 L349.4 542 L350.3 541.2 L351.2 541.5 L351.7 540.8 L352.1 540.7 L353 540 L353.9 538.2 L354.6 537.9 L354.8 539.6 L355.7 537.1 L356.6 537.3 L357.5 535 L357.5 536.4 L358.4 533.7 L359.3 532.4 L360.2 534.9 L360.4 533.6 L361.1 533 L362 533.2 L362.9 532.6 L363.3 532.7 L363.8 532.8 L364.7 531.3 L365.6 532.2 L366.2 532.1 L366.5 531.6 L367.4 531.9 L368.3 529.4 L369 531.6 L369.2 532.5 L370.1 532.6 L371 531.2 L371.9 532.8 L371.9 533.6 L372.8 534.4 L373.7 535.9 L374.6 536.2 L374.8 536.5 L375.5 537.9 L376.4 536.5 L377.3 535.5 L377.7 536.5 L378.2 536 L379.1 537.9 L380 537 L380.6 537.9 L380.9 538.7 L381.8 538.4 L382.7 537.5 L383.5 536.5 L383.6 537.6 L384.5 539.1 L385.4 542 L386.3 544.1 L386.4 545.2 L387.2 544.8 L388.1 544.1 L389 545.4 L389.3 546 L389.9 545.4 L390.8 545.6 L391.7 547.8 L392.2 548.1 L392.6 547.2 L393.5 543.1 L394.4 541.4 L394.5 539.4 L395.3 540.7 L396.2 541.2 L397.1 540 L397.4 540.8 L398 540 L398.9 543.1 L399.8 543.9 L400.3 544.3 L400.7 545.1 L401.6 545.1 L402.5 546.2 L403.2 545.2 L403.4 544.8 L404.3 544.8 L405.2 542.3 L406.1 540 L406.1 542.3 L407 540.2 L407.9 540.3 L408.8 535.3 L409 536.5 L409.7 536.5 L410.6 533.5 L411.5 532.4 L411.9 532.1 L412.4 532.1 L413.3 532.1 L414.2 530.8 L415.1 531.7 L415.4 531.6" fill="none" stroke="#f48cf0" stroke-width="1.3" stroke-linejoin="round"/>
<path d="M75.8 527.2 L76.7 528.6 L77.6 528.6 L77.8 529.2 L78.5 528.6 L79.4 527.9 L79.8 526.3 L80.3 527.2 L81.2 529.3 L82.1 527.7 L82.1 528.7 L83 528.1 L83.9 526.6 L84.8 525.8 L85 526.3 L85.7 525.4 L86.6 524.7 L87.5 523.9 L87.9 522.9 L88.4 522.8 L89.3 523.4 L90.2 520.8 L90.8 519.1 L91.1 517.7 L92 520 L92.9 519.8 L93.2 520.6 L93.8 519.4 L94.7 520.3 L95.6 517.9 L96 517.7 L96.5 515.6 L97.4 517.7 L98.3 517 L99.2 516 L99.5 517.1 L100.1 516.8 L101 518.2 L101.9 519.9 L102.4 520.6 L102.8 520.6 L103.7 522.2 L104.6 525.1 L104.7 523.5 L105.5 522.3 L106.4 521.8 L107.3 521.9 L107.6 522 L108.2 523.4 L109.1 522 L110 524.6 L110.5 523.5 L110.9 522.4 L111.8 523.5 L112.7 525.2 L113.6 525.1 L114 526.3 L114.5 524.9 L115.4 524.2 L116.3 522.8 L116.3 522 L117.2 522.5 L118.1 522.6 L119 524.7 L119.2 523.5 L119.9 524.5 L120.8 524.8 L121.7 527.1 L122.1 526.3 L122.6 525 L123.5 525.2 L124.4 524.8 L125 523.5 L125.3 523.3 L126.2 522.3 L127.1 522.8 L127.9 522 L128 521.6 L128.9 523.3 L129.8 524.7 L130.7 528.8 L130.8 527.8 L131.6 527.6 L132.5 529.8 L133.4 529.5 L133.7 529.2 L134.3 528.7 L135.2 529.2 L136.1 528.3 L136.6 527.8 L137 528.3 L137.9 527.7 L138.8 530 L139.5 530.7 L139.7 531.8 L140.6 532.3 L141.5 533.8 L142.4 535.3 L143 534.5 L143.3 534.6 L144.2 535.5 L145.1 531.3 L145.9 532.1 L146 531.9 L146.9 529.2 L147.8 532.2 L148.7 531.1 L149.4 530.7 L149.6 532.2 L150.5 529.5 L151.4 527.1 L152.3 529.7 L153.1 527.8 L153.2 526.4 L154.1 525.8 L155 526.2 L155.9 526.3 L156.8 524.5 L156.9 524.9 L157.7 524.8 L158.6 522.3 L159.5 525.6 L160.4 523.5 L160.4 523.4 L161.3 522.4 L162.2 521.8 L162.7 520.6 L163.1 520.3 L164 519.2 L164.9 517 L165.6 517.1 L165.8 516.8 L166.7 516.6 L167.6 516.5 L168.5 514.8 L168.5 514.6 L169.4 513.4 L170.3 512.1 L171.2 510.8 L171.9 509 L172.1 509 L173 507.5 L173.9 506.1 L174.8 506.7 L174.8 505.5 L175.7 505.3 L176.6 504.5 L177.5 507.4 L177.7 503.8 L178.4 504.2 L179.3 503.5 L180.2 502.2 L180.6 501.7 L181.1 500.5 L182 502.2 L182.9 500.5 L183.5 500.3 L183.8 499.9 L184.7 499.2 L185.6 497.5 L185.9 495.9 L186.5 497.7 L187.4 499.6 L187.9 500.9 L188.3 504 L189.2 504.8 L189.9 506.1 L190.1 505.5 L191 509.5 L191.9 511.1 L192.2 511.9 L192.8 514.1 L193.7 518.3 L193.7 517.7 L194.6 516 L195.5 515.8 L195.7 513.3 L196.4 513.3 L197.3 513 L198 512.4 L198.2 513.5 L199.1 511.5 L200 512.7 L200.9 511.2 L200.9 511.3 L201.8 513.8 L202.7 513.1 L203.2 514.8 L203.6 515.9 L204.5 515.8 L205.3 519.1 L205.4 518.7 L206.3 519.8 L207.2 521 L207.3 520.6 L208.1 521.4 L209 519.9 L209.6 517.1 L209.9 515.8 L210.8 516.6 L211.7 518.7 L212.5 517.7 L212.6 518 L213.5 515.3 L214.4 516.3 L215.3 513.8 L215.4 514.8 L216.2 513.8 L217.1 513.2 L218 514 L218.3 514.2 L218.9 519 L219.7 520.6 L219.8 521 L220.7 522.4 L221.6 527 L221.8 524.9 L222.5 525.3 L223.4 526.8 L224.1 527.8 L224.3 527.4 L225.2 527.7 L226.1 526.5 L227 527.8 L227 526.3 L227.9 525.6 L228.8 526 L229.7 525.2 L229.9 524.9 L230 524.9 L230.6 523.8 L231.5 523.2 L232.4 523.7 L232.9 523.5 L233.3 522.1 L234.2 526.7 L235.1 529 L235.2 529.2 L236 530.5 L236.9 531.7 L237.8 533.4 L238.1 533.6 L238.7 534.1 L239.6 536.4 L240.5 535.5 L241 537.9 L241.4 539.8 L242.3 540.2 L243.2 543.8 L243.9 545.2 L244.1 545.1 L245 547 L245.9 548.6 L245.9 549.5 L246.8 553.9 L247.7 554.6 L248 556.8 L248.6 558.1 L249.5 563.3 L249.7 564 L250.4 561.4 L251.3 557.3 L251.7 555.3 L252.2 556.9 L253.1 562.4 L253.8 566.9 L254 568.2 L254.9 568 L255.8 571.3 L256.1 571.3 L256.7 570.1 L257.6 566.7 L258.4 564 L258.5 563 L259.4 568 L260.3 568.2 L260.4 568.4 L261.2 564.8 L262.1 559.7 L262.4 558.2 L263 556 L263.9 554.4 L264.8 552.4 L264.8 552.7 L265.7 556.1 L266.6 561.6 L267.1 564 L267.5 565.7 L268.4 566.3 L269.1 566.9 L269.3 566 L270.2 562.6 L271.1 558 L271.1 556.8 L272 555.1 L272.9 550.6 L273.5 549.5 L273.8 547.6 L274.7 549.7 L275.6 548.5 L276.3 548.1 L276.5 547.6 L277.4 548.1 L278.3 546.7 L279.2 546.1 L279.2 546.6 L280.1 547.2 L281 542.5 L281.9 543.5 L282.1 542.3 L282.8 543 L283.7 543.3 L284.6 541.3 L285 540.8 L285.5 539.2 L286.4 533.3 L287.3 529.7 L287.4 529.2 L288.2 528.9 L289.1 532.4 L289.4 533.6 L290 534.8 L290.9 536.7 L291.4 537.9 L291.8 536.3 L292.7 535.2 L293.6 529.6 L293.7 530.7 L294.5 531.8 L295.4 532.3 L296 533.6 L296.3 533.4 L297.2 532.5 L298.1 533.5 L298.9 530.7 L299 529.7 L299.9 533.4 L300.8 534.8 L301.7 534.7 L301.8 535 L302.6 534.1 L303.5 533 L304.4 532.9 L304.7 533.6 L305.3 535.1 L306.2 530 L307.1 531.7 L307.6 530.7 L308 529.8 L308.9 532 L309.8 529.9 L310.5 529.2 L310.7 527.8 L311.6 527.9 L312.5 527.8 L313.4 527 L314 526.3 L314.3 525.1 L315.2 524.9 L316.1 523.8 L316.9 523.5 L317 524 L317.9 524.2 L318.8 524.6 L319.7 524.3 L319.8 524.9 L320.6 524.9 L321.5 522.7 L322.4 521.5 L322.7 522 L323.3 522.1 L324.2 523.2 L325.1 524.1 L325.6 524.9 L326 523.5 L326.9 528.2 L327.8 528.8 L328.5 529.2 L328.7 530.8 L329.6 530.5 L330.5 533 L331.4 533.8 L331.4 533.6 L332.3 534.5 L333.2 537.2 L334.1 535.7 L334.3 536.5 L335 536.7 L335.9 534 L336.8 535.8 L337.2 535 L337.7 534.4 L338.6 532.6 L339.5 532.2 L340.1 532.1 L340.4 529.9 L341.3 530.5 L342.2 531.3 L343 530.7 L343.1 528 L344 530.8 L344.9 529.8 L345.8 527.2 L345.9 527.8 L346.7 527.5 L347.6 528.9 L348.5 530.4 L348.8 532.1 L349.4 531.7 L350.3 535.1 L351.2 532.2 L351.7 533.6 L352.1 534.5 L353 535.5 L353.9 533.8 L354.6 535 L354.8 534.7 L355.7 535.2 L356.6 533.4 L357.5 533.6 L357.5 534.8 L358.4 535.3 L359.3 532.6 L360.2 531.4 L360.4 532.1 L361.1 532 L362 530.9 L362.9 528.9 L363.3 529.2 L363.8 527.8 L364.7 525.8 L365.6 524 L365.6 523.5 L366.5 520.6 L366.7 518.2 L367.4 517.9 L368.3 517.4 L369.2 517.4 L369.6 519.1 L370.1 521.4 L371 520 L371.9 520.9 L372.5 522 L372.8 524.6 L373.7 523.8 L374.6 525.5 L374.8 523.5 L375.5 523.6 L376.4 523.5 L377.3 524.1 L377.7 524.9 L378.2 525.3 L379.1 524.7 L380 524.2 L380.6 523.5 L380.9 525.9 L381.8 525.9 L382.7 524.4 L383.5 526.3 L383.6 526.9 L384.5 529.3 L385.4 530.2 L386.3 535.5 L386.4 533.6 L387.2 533.1 L388.1 532 L388.7 529.2 L389 528.4 L389.9 526.5 L390.8 527.1 L390.8 526.3 L391.7 530 L392.6 533.5 L392.8 535 L393.5 533.3 L394.4 531.3 L395.1 529.2 L395.3 529.9 L396.2 532.3 L397.1 535.8 L397.4 536.5 L398 538.9 L398.9 536.2 L399.8 533.6 L400.3 533.6 L400.7 536 L401.6 534.3 L402.5 534.2 L403.2 536.5 L403.4 534.6 L404.3 530.7 L405.2 530.7 L405.3 529.2 L406.1 525.8 L407 522.9 L407.3 523.5 L407.9 522.3 L408.8 521.8 L409.7 519.8 L410.2 520.6 L410.6 520.2 L411.5 521.2 L412.4 522.3 L413.1 522 L413.3 521.1 L414.2 522.6 L415.1 522.3 L415.4 522" fill="none" stroke="#22e4f2" stroke-width="1.6" stroke-linejoin="round"/>
<path d="M75.8 626.3 L76.7 624.2 L77.6 625.2 L77.8 624.3 L78.5 622.2 L79.4 624.7 L80.3 623 L80.7 625.4 L81.2 626.4 L82.1 625.4 L83 626.3 L83.6 624.8 L83.9 624.1 L84.8 624.1 L85.7 622.5 L86.5 621.9 L86.6 621.2 L87.5 621.6 L88.4 619.7 L89.3 620.2 L89.4 620.5 L90.2 620.4 L91.1 618.9 L92 617.5 L92.3 617.6 L92.9 620 L93.8 618.1 L94.7 617.7 L95.2 618.5 L95.6 618.7 L96.5 618.2 L97.4 618.5 L98.1 619 L98.3 618.8 L99.2 621.6 L100.1 620.1 L101 620.7 L101 620.5 L101.9 621.6 L102.8 623.4 L103.7 621.6 L103.9 621.9 L104.6 621.2 L105.5 624.1 L106.4 620 L106.8 621.4 L107.3 620.5 L108.2 620.6 L109.1 621.3 L109.7 618.5 L110 617.3 L110.9 615.1 L111.8 617.4 L112.6 616.2 L112.7 615.6 L113.6 615.3 L114.5 615.7 L115.4 615 L115.5 614.7 L116.3 614.8 L117.2 613.8 L118.1 615.2 L118.4 613.8 L119 615.2 L119.9 613.6 L120.8 612.9 L121.3 613.3 L121.7 613.9 L122.6 613.5 L123.5 611.8 L124.1 612.7 L124.4 612.3 L125.3 614.2 L126.2 613.4 L127 613.8 L127.1 613.5 L128 614.3 L128.9 614.3 L129.8 614.7 L129.9 614.7 L130.7 613.1 L131.6 617.3 L132.5 616.2 L132.8 616.2 L133.4 615.4 L134.3 617.4 L135.2 616.9 L135.7 616.7 L136.1 617 L137 618.8 L137.9 620.7 L138.6 619 L138.8 619.7 L139.7 621.2 L140.6 622.2 L141.5 619.4 L141.5 620.5 L142.4 620.2 L143.3 621.8 L144.2 619.6 L144.4 621.4 L145.1 620.9 L146 622.2 L146.9 621.7 L147.3 620.5 L147.8 620.9 L148.7 617.9 L149.6 621.7 L150.2 619 L150.5 619.2 L151.4 618.1 L152.3 616.5 L153.1 614.7 L153.2 613 L154.1 612.6 L155 612.2 L155.9 614.7 L156 612.7 L156.8 611.6 L157.7 611.9 L158.6 611.7 L158.9 611.8 L159.5 612.7 L160.4 613 L161.3 613.3 L161.8 613.3 L162.2 611.8 L163.1 609.5 L164 612.3 L164.7 611.8 L164.9 612 L165.8 612.5 L166.7 610.7 L167.6 609.8 L167.6 610.4 L168.5 610.9 L169.4 609.2 L170.3 609.9 L170.5 610.9 L171.2 609.7 L172.1 610.6 L173 612 L173.4 609.8 L173.9 610.3 L174.8 610.1 L175.7 608.7 L176.3 608 L176.6 608.2 L177.5 607.1 L178.4 606.9 L179.2 606.9 L179.3 604.4 L180.2 605.4 L181.1 605 L182 606.9 L182.1 606 L182.9 606.4 L183.8 606.7 L184.7 606.8 L185 605.1 L185.6 605.3 L186.5 607.4 L187.4 609 L187.9 607.5 L188.3 607.2 L189.2 607.6 L189.9 606 L190.1 606.4 L191 607.9 L191.6 611.8 L191.9 612.4 L192.8 613.4 L193.7 616.3 L193.7 616.2 L194.6 615.9 L195.5 616.8 L196.4 614.6 L196.6 616.7 L197.3 618.3 L198.2 617 L199.1 614.6 L199.5 614.7 L200 614.3 L200.9 616.1 L201.8 617.7 L202.4 617.6 L202.7 618.2 L203.6 618.8 L204.5 617.1 L205.3 619.6 L205.4 618.5 L206.3 621.3 L207.2 620.4 L208.1 619 L208.2 620.5 L209 620.2 L209.9 620.3 L210.2 621.9 L210.8 622.4 L211.7 626.8 L212.5 627.7 L212.6 627.6 L213.5 629.4 L214.4 628.9 L215.3 627.6 L215.4 629.2 L216.2 628.1 L217.1 630.7 L218 627.1 L218.3 627.7 L218.9 627.2 L219.8 630.5 L220.7 630.2 L221.2 630.6 L221.6 630.4 L222.5 631.5 L223.4 627.8 L224.1 629.2 L224.3 629.4 L225.2 627 L226.1 625.8 L227 625.5 L227 626.3 L227.9 627 L228.8 625.3 L229.7 623.1 L229.9 624.8 L230 627.7 L230.6 626.9 L231.5 630 L232.4 630 L232.9 629.2 L233.3 628.4 L234.2 632.9 L235.1 631 L235.8 632.1 L236 631 L236.9 633 L237.8 635 L238.7 636.6 L238.7 635 L239.6 636.9 L240.5 636.3 L241.4 637.1 L241.6 637.9 L242.3 636.7 L243.2 638.6 L244.1 638.5 L244.5 639.3 L245 639.5 L245.9 637.8 L246.8 638.3 L247.4 638.7 L247.7 638.2 L248.6 638.9 L249.5 640 L250.3 642.2 L250.4 641.4 L251.3 643 L252.2 646.6 L253.1 647.9 L253.2 648 L254 648.1 L254.9 651.6 L255.8 653 L256.1 653.2 L256.7 655.1 L257.6 654.1 L258.5 654.7 L259 655.3 L259.4 654.6 L260.3 655.4 L261.2 655.8 L261.9 655.3 L262.1 655.2 L263 653.9 L263.9 653.8 L264.8 652.4 L264.8 652.4 L265.7 651.3 L266.6 648.7 L267.5 648.5 L267.7 648 L268.4 646.3 L269.3 645.5 L270.2 645.7 L270.6 645.1 L271.1 647.3 L272 646.1 L272.9 645.1 L273.5 645.1 L273.8 644 L274.7 642.5 L275.6 640.2 L276.3 636.4 L276.5 637.7 L277.4 636.2 L278.3 636.6 L279.2 636.1 L279.2 636.4 L280.1 634.9 L281 633 L281.9 632.2 L282.1 632.1 L282.8 630.2 L283.7 631.6 L284.6 633.7 L285 633.5 L285.5 632.2 L286.4 632.8 L287.3 630 L287.9 630.6 L288.2 630 L289.1 629.9 L290 627.5 L290.8 627.7 L290.9 627 L291.8 629.8 L292.7 626.1 L293.6 625.7 L293.7 626.3 L294.5 625 L295.4 624.7 L296.3 623.7 L296.6 623.4 L297.2 624.7 L298.1 624.9 L299 624.2 L299.5 624.8 L299.9 625 L300.8 625.3 L301.7 626.5 L302.4 629.2 L302.6 628.2 L303.5 628.4 L304.4 626.4 L305.3 625.7 L305.3 624.8 L306.2 625.4 L307.1 623.8 L308 625.7 L308.2 623.4 L308.9 623.1 L309.8 623.2 L310.7 623.7 L311.1 624.3 L311.6 625.5 L312.5 624.4 L313.4 624 L314 624.8 L314.3 625.2 L315.2 625.4 L316.1 623.7 L316.9 623.4 L317 623.1 L317.9 624 L318.8 623.5 L319.7 623 L319.8 621.9 L320.6 621.2 L321.5 622.2 L322.4 622.3 L322.7 621.9 L323.3 620.4 L324.2 623.9 L325.1 623.2 L325.6 623.4 L326 623.4 L326.9 627 L327.8 625.7 L328.5 626.3 L328.7 625.7 L329.6 627 L330.5 628.3 L331.4 629.1 L331.4 628.3 L332.3 628.5 L333.2 628 L334.1 628.4 L334.3 629.2 L335 628.6 L335.9 628.6 L336.8 629.9 L337.2 630.1 L337.7 630.6 L338.6 633.2 L339.5 634.2 L340.1 636.4 L340.4 634.4 L341.3 631.5 L341.5 630.6 L342.2 629.3 L343.1 629.5 L344 626.1 L344.4 626.3 L344.9 625.8 L345.8 624.2 L346.7 621.6 L347.3 621.9 L347.6 622.6 L348.5 621.5 L349.4 618.8 L350.2 620.5 L350.3 621.1 L351.2 620.5 L352.1 617.8 L353 619.5 L353.1 617.6 L353.9 617.2 L354.8 615.3 L355.7 616.4 L356 615.6 L356.6 615.3 L357.5 614.5 L358.4 613.9 L358.9 616.2 L359.3 616.5 L360.2 615.7 L361.1 617.2 L361.8 616.7 L362 617.2 L362.9 616.8 L363.8 617.4 L364.7 620.3 L364.7 618.5 L365.6 620.4 L366.5 619.6 L367.4 618.6 L367.6 619 L368.3 618.7 L369.2 620.2 L370.1 623.2 L370.5 621.9 L371 622.2 L371.9 621 L372.8 619.6 L373.4 620.5 L373.7 620.8 L374.6 620 L375.5 621.1 L376.3 621.4 L376.4 622.1 L377.3 622.2 L378.2 620.9 L379.1 620.2 L379.2 620.5 L380 621.5 L380.9 624 L381.8 623.5 L382.1 623.4 L382.7 623.4 L383.6 628.7 L384.5 629.6 L385 630.6 L385.4 635.2 L386.3 633.4 L387.2 636 L387.9 637.9 L388.1 637.6 L389 638.3 L389.9 637.3 L390.8 636.4 L390.8 637.9 L391.7 635.7 L392.6 637.4 L393.5 636.8 L393.7 637.3 L394.4 636.2 L395.3 638.2 L396.2 636.1 L396.6 635 L397.1 635.6 L398 633.1 L398.9 633 L399.5 632.1 L399.8 632 L400.7 632.5 L401.6 633.9 L402.4 633.5 L402.5 634 L403.4 632.3 L404.3 630.8 L405.2 627.9 L405.3 629.2 L406.1 627.6 L407 627.9 L407.9 626.2 L408.2 626.3 L408.8 625.2 L409.7 625.9 L410.6 624.1 L411.1 624.8 L411.5 624.1 L412.4 625.5 L413.3 624 L414 624.3 L414.2 625.8 L415.1 625.2 L415.4 624.8" fill="none" stroke="#f6b272" stroke-width="1.3" stroke-linejoin="round"/>
<path d="M75.8 624.8 L76.7 621.1 L77.6 620.2 L77.8 620.5 L78.5 620.2 L79.4 621.2 L80.3 619.3 L80.7 619 L81.2 616.9 L82.1 618 L83 615.6 L83.6 616.2 L83.9 617.2 L84.8 615.3 L85.7 616.9 L86.5 614.7 L86.6 614.5 L87.5 612.7 L88.4 611.4 L89.3 611.6 L89.4 611.8 L90.2 610.6 L91.1 609.4 L91.4 607.5 L92 607.6 L92.9 606.4 L93.7 606.9 L93.8 607.4 L94.7 606.9 L95.6 610.1 L96 610.4 L96.5 610.5 L97.4 614.7 L98.1 614.7 L98.3 615.8 L99.2 615.4 L100.1 614.3 L101 616.1 L101 615.6 L101.9 614.9 L102.8 613 L103 613.3 L103.7 613.5 L104.6 616.5 L105.3 616.2 L105.5 615.7 L106.4 616.1 L107.3 616.6 L108.2 613.2 L108.2 614.7 L109.1 615.9 L110 614.5 L110.9 612.2 L111.1 612.7 L111.8 611.5 L112.7 611 L113.6 612.9 L114 611.8 L114.5 609.2 L115.4 612.7 L116.3 612 L116.9 611.8 L117.2 611 L118.1 611 L119 610.8 L119.8 610.9 L119.9 610.7 L120.8 612.1 L121.7 610.7 L122.6 612.9 L122.7 611.8 L123.5 612.8 L124.4 611.6 L125.3 612.4 L125.6 611.8 L126.2 611.6 L127.1 612.6 L128 613.5 L128.5 613.3 L128.9 615.3 L129.8 613.5 L130.7 613.5 L131.4 613.8 L131.6 613.9 L132.5 614 L133.4 613.4 L134.3 616.6 L134.3 614.7 L135.2 614.3 L136.1 614.7 L137 614.8 L137.2 615.6 L137.9 617 L138.8 620.1 L139.7 621.1 L140.1 618.5 L140.6 619.7 L141.5 619.4 L142.4 619.4 L143 619.6 L143.3 618.6 L144.2 620.1 L145.1 619.1 L145.9 619 L146 621.2 L146.9 619.3 L147.8 619 L148.7 618.6 L148.8 620.5 L149.6 617.2 L150.5 617.9 L151.1 616.2 L151.4 615.9 L152.3 612.5 L153.1 611.8 L153.2 610.2 L154.1 610.5 L155 608.3 L155.9 607.4 L156 606.9 L156.8 606.4 L157.7 605.1 L158.6 603.6 L158.9 605.1 L159.5 605.7 L160.4 606.4 L161.3 607.2 L161.8 607.5 L162.2 608.2 L163.1 607.8 L164 605.9 L164.7 606 L164.9 606.4 L165.8 602.8 L166.7 604.7 L167.6 603.1 L167.6 603.1 L168.5 605 L169.4 605.9 L170.3 604.8 L170.5 606 L171.2 605.6 L172.1 606.4 L173 604.2 L173.4 604.6 L173.9 604.2 L174.8 602.6 L175.7 602.9 L176.3 601.7 L176.6 601.7 L177.5 599.7 L178.4 598.2 L179.2 598.8 L179.3 596.5 L180.2 599.1 L181.1 597.4 L182 596.7 L182.1 597.3 L182.9 597.2 L183.8 597.2 L184.7 599.3 L185 598.8 L185.6 598.8 L186.5 595 L187.4 596.4 L187.9 595.9 L188.3 595.8 L189.2 595 L189.3 595.3 L190.1 600.2 L190.8 604.6 L191 606.8 L191.9 608 L192.8 611.5 L192.8 610.4 L193.7 612.5 L194.6 611 L195.1 613.3 L195.5 614.4 L196.4 611.1 L197.3 608.9 L197.4 608.9 L198.2 609.5 L199.1 610.5 L199.5 608 L200 608.5 L200.9 611 L201.5 613.3 L201.8 614 L202.7 612.9 L203.6 614.7 L203.8 616.2 L204.5 617 L205.4 618.9 L206.1 619 L206.3 619.5 L207.2 619.2 L208.1 618.8 L208.2 617.6 L209 617.7 L209.9 618.5 L210.2 619 L210.8 620.7 L211.7 623.7 L211.9 624.8 L212.6 626.9 L213.5 627.9 L214 627.7 L214.4 625.4 L215.3 627.6 L216.2 625.6 L216.8 626.3 L217.1 625.3 L218 628.2 L218.9 628.7 L219.7 627.7 L219.8 629 L220.7 628.9 L221.6 630.5 L222.5 627.9 L222.6 629.2 L223.4 629.3 L224.3 626.9 L225.2 626 L225.5 626.3 L226.1 624.9 L227 628.6 L227.9 629.3 L228.4 627.7 L228.8 631.1 L229.7 636.3 L230 639.3 L230.6 639.8 L231.5 639 L232.4 640.3 L232.9 640.8 L233.3 642.7 L234.2 643.7 L235.1 643.6 L235.8 643.7 L236 644.7 L236.9 644.6 L237.8 646 L238.7 646.4 L238.7 646.6 L239.6 647.5 L240.5 646.8 L241.4 648.9 L241.6 648 L242.3 648.1 L243.2 649 L244.1 649.1 L244.5 649.5 L245 651.7 L245.9 652.1 L246.8 651.5 L246.8 652.4 L247.7 649.6 L248.6 649.2 L248.8 648 L249.5 647.7 L250.4 646.7 L250.9 646.6 L251.3 647.6 L252.2 650.7 L253.1 650.6 L253.2 650.9 L254 653 L254.9 651.8 L255.8 652.8 L256.1 653.2 L256.7 653.9 L257.6 653.9 L258.5 653.9 L259 654.7 L259.4 653.6 L260.3 654.2 L261.2 654.1 L261.9 654.4 L262.1 654.3 L263 654.7 L263.9 653.5 L264.8 652.4 L264.8 653.6 L265.7 651.7 L266.6 651 L267.5 650.3 L267.7 649.5 L268.4 649.5 L269.3 648.9 L270.2 646.4 L270.6 646.6 L271.1 646.5 L272 645.4 L272.9 645.5 L273.5 643.7 L273.8 643.9 L274.7 640.7 L275.6 639.9 L276.3 637.9 L276.5 638.5 L277.4 636.9 L278.3 637.3 L279.2 635.4 L279.2 635 L280.1 632.9 L281 633.6 L281.9 633.2 L282.1 632.1 L282.8 631 L283.7 632.1 L284.6 628.1 L285 630.6 L285.5 632.5 L286.4 628.6 L287.3 629.1 L287.9 629.2 L288.2 629.1 L289.1 628.9 L290 631.6 L290.8 632.1 L290.9 631.2 L291.8 631.2 L292.7 630.7 L293.6 634.2 L293.7 633.5 L294.5 633.3 L295.4 630 L296.3 628.7 L296.6 627.7 L297.2 629.1 L298.1 627.4 L299 627.8 L299.5 626.3 L299.9 627.1 L300.8 626.2 L301.7 625.4 L302.4 624.3 L302.6 625.4 L303.5 623.7 L304.4 622.9 L305.3 621.3 L305.3 621.9 L306.2 619 L307.1 619.3 L308 619 L308.2 619 L308.9 620.5 L309.8 619.5 L310.7 618.3 L311.1 620.5 L311.6 621.4 L312.5 622.5 L313.4 622 L314 621.9 L314.3 622 L315.2 620.9 L316.1 619.4 L316.9 618.5 L317 619.9 L317.9 617.4 L318.8 617.2 L319.7 616.2 L319.8 617.6 L320.6 616.7 L321.5 616.1 L322.4 615.7 L322.7 616.2 L323.3 616.7 L324.2 618 L325.1 616 L325.6 617.6 L326 618.1 L326.9 618.2 L327.8 619.1 L328.5 620.5 L328.7 620.3 L329.6 622 L330.5 620.9 L331.4 624.9 L331.4 623.4 L332.3 624.2 L333.2 624.5 L334.1 624.5 L334.3 626.3 L335 627.1 L335.9 626.2 L336.8 626 L337.2 624.8 L337.7 625.5 L338.6 628 L339.5 628.8 L340.1 627.7 L340.4 629.5 L341.3 626.4 L342.2 625.6 L343 623.4 L343.1 622.9 L344 621.6 L344.9 619.3 L345.8 617.9 L345.9 617.6 L346.7 617.3 L347.6 616.8 L348.5 616.3 L348.8 616.2 L349.4 616.2 L350.3 615.5 L351.2 615 L351.7 615.6 L352.1 615 L353 615.9 L353.9 615.7 L354.6 614.7 L354.8 615.7 L355.7 616.7 L356.6 612.7 L357.5 613.3 L357.5 614.2 L358.4 612.1 L359.3 613.1 L360.2 613 L360.4 613.8 L361.1 614.1 L362 615.7 L362.9 616.2 L363.3 614.7 L363.8 614.1 L364.7 613.1 L365.6 610.8 L365.6 610.4 L366.5 607.9 L367.4 609.5 L367.6 607.5 L368.3 608.6 L369.2 611 L369.6 612.7 L370.1 612.7 L371 612 L371.9 612.5 L372.5 613.3 L372.8 614 L373.7 612.1 L374.6 612.2 L375.4 612.7 L375.5 611 L376.4 611.2 L377.3 613.8 L378.2 614.2 L378.3 613.8 L379.1 613.7 L380 616.1 L380.9 613.6 L381.2 614.7 L381.8 616.4 L382.7 616.9 L383.6 619.4 L384.1 620.5 L384.5 621.6 L385.4 621 L386.3 625.2 L387 624.8 L387.2 625 L388.1 626.5 L389 627.6 L389.9 629.5 L389.9 629.2 L390.8 629 L391.7 630.2 L392.2 632.1 L392.6 631.8 L393.5 629.6 L394.4 627.7 L394.5 627.7 L395.3 627 L396.2 626.9 L397.1 622.9 L397.4 623.4 L398 621.2 L398.9 623.8 L399.8 622.8 L400.3 624.8 L400.7 625 L401.6 625.1 L402.5 627 L403.2 627.7 L403.4 629.6 L404.3 627.2 L405.2 625.1 L406.1 625.2 L406.1 626.3 L407 624 L407.9 622.2 L408.8 622.8 L409 621.9 L409.7 622 L410.6 622.7 L411.5 622.3 L411.9 621.4 L412.4 621 L413.3 620.1 L414.2 619.8 L415.1 619.8 L415.4 619.6" fill="none" stroke="#22e022" stroke-width="1.7" stroke-linejoin="round"/>
<path d="M64.8 693H77.8" stroke="#22e4f2" stroke-width="1.3"/>
<text x="80.7" y="695.2" font-size="6.1" fill="#222" text-anchor="start" font-weight="normal" textLength="78.8" lengthAdjust="spacingAndGlyphs">Gross - Beta &amp; Delta Adjusted</text>
<path d="M163.3 693H177.2" stroke="#22e022" stroke-width="1.3"/>
<text x="179.5" y="695.2" font-size="6.1" fill="#222" text-anchor="start" font-weight="normal" textLength="72.2" lengthAdjust="spacingAndGlyphs">Net - Beta &amp; Delta Adjusted</text>
<path d="M256 693H269" stroke="#f48cf0" stroke-width="1.3"/>
<text x="271.2" y="695.2" font-size="6.1" fill="#222" text-anchor="start" font-weight="normal" textLength="60.8" lengthAdjust="spacingAndGlyphs">Gross - Delta Adjusted</text>
<path d="M335.7 693H348" stroke="#f6b272" stroke-width="1.3"/>
<text x="350.2" y="695.2" font-size="6.1" fill="#222" text-anchor="start" font-weight="normal" textLength="53.6" lengthAdjust="spacingAndGlyphs">Net - Delta Adjusted</text>
</svg></div>
<div class="src" id="s3" style="left:12.8px;top:703.7px;"><b>Source:</b> Morgan Stanley Prime Brokerage</div>

<div class="h2" id="t4" style="left:575px;top:437.2px;">Will Retail Sentiment Lead the Market?</div>
<div class="chart" id="c4" style="left:594px;top:485px;width:394px;height:214px;"><svg width="394" height="214" viewBox="594 485 394 214" font-family="DejaVu Sans, sans-serif">
<path d="M594 686H940" stroke="#9a9ae0" stroke-width="1.2"/>
<path d="M658.4 686V699M742.5 686V699M826.4 686V699M910 686V699M595 686V688M616 686V688M637.1 686V688M658.1 686V688M679.1 686V688M700.1 686V688M721.2 686V688M742.2 686V688M763.2 686V688M784.3 686V688M805.3 686V688M826.3 686V688M847.4 686V688M868.4 686V688M889.4 686V688M910.5 686V688M931.5 686V688" stroke="#9a9ae0" stroke-width="1"/>
<text x="616.8" y="697.8" font-size="6.2" fill="#5a66e0" text-anchor="middle" font-weight="normal" textLength="16.5" lengthAdjust="spacingAndGlyphs">2008</text>
<text x="700" y="697.8" font-size="6.2" fill="#5a66e0" text-anchor="middle" font-weight="normal" textLength="16.5" lengthAdjust="spacingAndGlyphs">2009</text>
<text x="783.6" y="697.8" font-size="6.2" fill="#5a66e0" text-anchor="middle" font-weight="normal" textLength="16.5" lengthAdjust="spacingAndGlyphs">2010</text>
<text x="867" y="697.8" font-size="6.2" fill="#5a66e0" text-anchor="middle" font-weight="normal" textLength="16.5" lengthAdjust="spacingAndGlyphs">2011</text>
<text x="925.5" y="697.8" font-size="6.2" fill="#5a66e0" text-anchor="middle" font-weight="normal" textLength="16.5" lengthAdjust="spacingAndGlyphs">2012</text>
<path d="M672 517.5H790" stroke="#f1f1f1" stroke-width="1" stroke-dasharray="6 3"/>
<path d="M940.2 485V685" stroke="#f58c8c" stroke-width="1.4"/>
<text x="946.2" y="510.2" font-size="6.2" fill="#ee4444" text-anchor="start" font-weight="normal" textLength="11.6" lengthAdjust="spacingAndGlyphs">100</text>
<text x="946.2" y="542.4" font-size="6.2" fill="#ee4444" text-anchor="start" font-weight="normal" textLength="8.2" lengthAdjust="spacingAndGlyphs">90</text>
<text x="946.2" y="574.6" font-size="6.2" fill="#ee4444" text-anchor="start" font-weight="normal" textLength="8.2" lengthAdjust="spacingAndGlyphs">80</text>
<text x="946.2" y="606.8" font-size="6.2" fill="#ee4444" text-anchor="start" font-weight="normal" textLength="8.2" lengthAdjust="spacingAndGlyphs">70</text>
<text x="946.2" y="639" font-size="6.2" fill="#ee4444" text-anchor="start" font-weight="normal" textLength="8.2" lengthAdjust="spacingAndGlyphs">60</text>
<text x="946.2" y="671.2" font-size="6.2" fill="#ee4444" text-anchor="start" font-weight="normal" textLength="8.2" lengthAdjust="spacingAndGlyphs">50</text>
<path d="M940 508H944.5M940 540.2H944.5M940 572.4H944.5M940 604.6H944.5M940 636.8H944.5M940 669H944.5" stroke="#e83030" stroke-width="1"/>
<path d="M940 491.9H942.5M940 524.1H942.5M940 556.3H942.5M940 588.5H942.5M940 620.7H942.5M940 652.9H942.5" stroke="#f58c8c" stroke-width="0.8"/>
<path d="M965.5 485V685" stroke="#4444d4" stroke-width="1.2"/>
<text x="971.8" y="507.4" font-size="6.2" fill="#3a3ad8" text-anchor="start" font-weight="normal" textLength="11.4" lengthAdjust="spacingAndGlyphs">-20</text>
<text x="971.8" y="531" font-size="6.2" fill="#3a3ad8" text-anchor="start" font-weight="normal" textLength="11.4" lengthAdjust="spacingAndGlyphs">-25</text>
<text x="971.8" y="554.6" font-size="6.2" fill="#3a3ad8" text-anchor="start" font-weight="normal" textLength="11.4" lengthAdjust="spacingAndGlyphs">-30</text>
<text x="971.8" y="578.2" font-size="6.2" fill="#3a3ad8" text-anchor="start" font-weight="normal" textLength="11.4" lengthAdjust="spacingAndGlyphs">-35</text>
<text x="971.8" y="601.8" font-size="6.2" fill="#3a3ad8" text-anchor="start" font-weight="normal" textLength="11.4" lengthAdjust="spacingAndGlyphs">-40</text>
<text x="971.8" y="625.4" font-size="6.2" fill="#3a3ad8" text-anchor="start" font-weight="normal" textLength="11.4" lengthAdjust="spacingAndGlyphs">-45</text>
<text x="971.8" y="649" font-size="6.2" fill="#3a3ad8" text-anchor="start" font-weight="normal" textLength="11.4" lengthAdjust="spacingAndGlyphs">-50</text>
<text x="971.8" y="672.6" font-size="6.2" fill="#3a3ad8" text-anchor="start" font-weight="normal" textLength="11.4" lengthAdjust="spacingAndGlyphs">-55</text>
<path d="M965.5 505.1H970.5M965.5 528.7H970.5M965.5 552.3H970.5M965.5 575.9H970.5M965.5 599.5H970.5M965.5 623.1H970.5M965.5 646.7H970.5M965.5 670.3H970.5" stroke="#2a2ad0" stroke-width="1.2"/>
<path d="M965.5 493.3H968M965.5 516.9H968M965.5 540.5H968M965.5 564.1H968M965.5 587.7H968M965.5 611.3H968M965.5 634.9H968M965.5 658.5H968M965.5 682.1H968" stroke="#3a3acc" stroke-width="0.8"/>
<path d="M594.3 533.6 L595.3 531.5 L595.8 526.3 L596.3 525 L597.3 525.4 L598.1 527.8 L598.3 527.8 L599.3 527.2 L600.1 520.6 L600.3 521.2 L601.3 516.3 L602.3 515.6 L603 516.2 L603.3 515.8 L604.3 517 L605.3 513.9 L605.9 513.3 L606.3 513.5 L607.3 515.9 L608 517.7 L608.3 518.6 L609.3 517.9 L610.3 520.6 L610.3 520.9 L611.3 525.2 L612.3 531.9 L612.6 529.2 L613.3 532.4 L614.3 538.9 L614.6 537.9 L615.3 538.9 L616.3 547.2 L616.7 546.6 L617.3 551.1 L618.3 555.4 L618.4 556.8 L619.3 554.1 L620.3 553.2 L620.4 551 L621.3 548.4 L622.3 549.1 L622.4 546.6 L623.3 548.3 L624.3 546.6 L624.8 542.3 L625.3 545.5 L626.3 538.6 L627.1 540.8 L627.3 542.2 L628.3 542.1 L629.1 545.2 L629.3 547 L630.3 543.6 L631.1 542.3 L631.3 543.6 L632.3 547.9 L633.3 549.4 L633.5 551 L634.3 559.3 L634.9 564 L635.3 566.1 L636.3 580.1 L636.3 575.6 L637.3 586.6 L637.8 593 L638.3 598.6 L639.2 607.5 L639.3 605.1 L640.3 619.7 L640.7 627.7 L641.3 616.9 L642.1 607.5 L642.3 611.7 L643.3 623.6 L643.6 624.8 L644.3 621 L645 616.2 L645.3 617.9 L646.3 633.3 L646.8 633.5 L647.3 632.8 L647.9 636.4 L648.3 641.6 L649.3 661.5 L649.4 661.1 L650.3 645.1 L650.3 642.4 L651.3 638 L652.3 630.6 L652.3 632.9 L653.3 632.8 L654.3 635 L654.3 635.9 L655.3 633.2 L656.3 629.8 L656.6 630.6 L657.3 621.7 L658.3 622.9 L659.3 622.5 L659.5 621.9 L660.3 624.6 L661.3 634.5 L661.8 639.3 L662.3 642 L663.3 648.7 L663.9 648 L664.3 642.4 L665.3 638.5 L665.9 636.4 L666.3 639.6 L667.3 646.1 L667.6 646.6 L668.3 648.2 L669.3 661.7 L669.7 659.6 L670.3 661.3 L671.3 670.4 L671.7 669.7 L672.3 672.7 L673.3 679 L673.4 678.4 L674.3 676.4 L674.6 671.2 L675.3 667.8 L676.3 659.6 L676.3 659.9 L677.3 653.1 L678.3 649.6 L678.4 650.9 L679.3 645.1 L680.3 649.7 L680.4 645.1 L681.3 640 L682.3 635.9 L682.7 640.8 L683.3 643.2 L684.3 640.5 L685 636.4 L685.3 634.8 L686.3 634.5 L687 630.6 L687.3 628.1 L688.3 625.7 L689.1 624.8 L689.3 625.8 L690.3 625 L691.3 622.5 L691.4 623.4 L692.3 625.8 L693.3 622.6 L693.7 620.5 L694.3 622.2 L695.3 621.5 L695.7 624.8 L696.3 626.1 L697.3 626.5 L697.8 627.7 L698.3 626.2 L699.3 625.6 L700.1 621.9 L700.3 620.1 L701.3 619.4 L702.3 618.1 L702.4 616.2 L703.3 615 L704.3 617.1 L704.4 611.8 L705.3 607.4 L706.3 610.4 L706.5 610.4 L707.3 606.2 L708.3 606.7 L708.8 606 L709.3 610.9 L710.3 600.5 L711.1 603.1 L711.3 603.1 L712.3 607.3 L713.1 607.5 L713.3 607.1 L714.3 606 L715.1 601.7 L715.3 597.8 L716.3 600.9 L717.3 594.1 L717.5 595.9 L718.3 592.7 L719.3 596 L719.8 594.4 L720.3 594.7 L721.3 590.7 L721.8 591.5 L722.3 588.7 L723.3 587.9 L723.8 587.2 L724.3 587.9 L725.3 588.8 L726.2 590.1 L726.3 587.6 L727.3 582.8 L728.3 588.9 L728.5 585.7 L729.3 585.5 L730.3 581.7 L730.5 584.3 L731.3 580.3 L732.3 581.5 L732.5 582.8 L733.3 583 L734.3 580.5 L734.8 585.7 L735.3 587.9 L736.3 583.9 L737.2 581.4 L737.3 580.5 L738.3 580.5 L739.2 578.5 L739.3 578.8 L740.3 579.2 L741.2 575.6 L741.3 575.9 L742.3 577.7 L743.3 577.7 L743.5 574.1 L744.3 574.5 L745.3 575.5 L745.9 577 L746.3 577.6 L747.3 584 L747.9 587.2 L748.3 586.6 L749.3 590.4 L749.9 591.5 L750.3 590.9 L751.3 588.2 L752.2 584.3 L752.3 581.6 L753.3 584.6 L754.3 579.7 L754.5 579.9 L755.3 578 L756.3 575 L756.6 575.6 L757.3 569.6 L758.3 572.4 L758.6 571.3 L759.3 566.5 L760.3 571.5 L760.9 568.4 L761.3 567.9 L762.3 570 L763.2 565.5 L763.3 566.8 L764.3 566.2 L765.3 564 L765.3 567 L766.3 563.2 L767.3 562.6 L767.3 566.1 L768.3 564.3 L769.3 567 L769.6 566.9 L770.3 570.1 L771.3 579 L771.9 581.4 L772.3 584.4 L773.3 585.4 L774 588.6 L774.3 586.4 L775.3 590.6 L776 591.5 L776.3 591.6 L777.3 587.8 L778.3 585.7 L778.3 583.6 L779.3 582.9 L780.3 582.6 L780.6 582.8 L781.3 579.2 L782.3 586.5 L782.6 588.6 L783.3 592.8 L784.3 588.3 L784.7 591.5 L785.3 589.8 L786.3 592.1 L787 587.2 L787.3 588.1 L788.3 586.7 L789.3 582.8 L789.3 582.5 L790 581.4 L790.3 578.3 L791.3 586.9 L792.3 579.9 L792.3 580.7 L793.3 584.2 L794.3 587.2 L794.3 590.8 L795.3 592.6 L796.3 594.5 L796.4 594.4 L797.3 587.8 L798.3 585.5 L798.7 584.3 L799.3 582.3 L800.3 578.7 L801 578.5 L801.3 575.9 L802.3 573.5 L803 574.1 L803.3 573.2 L804.3 570.1 L805.1 569.8 L805.3 570.2 L806.3 569.6 L807.3 566.2 L807.4 565.5 L808.3 563.7 L809.3 565.2 L809.7 561.1 L810.3 564.4 L811.3 562.6 L811.7 566.9 L812.3 562.7 L813.3 560.4 L813.8 558.2 L814.3 557.8 L815.3 563.9 L816.1 564 L816.3 559.7 L817.3 557.5 L818.3 561.9 L818.4 559.7 L819.3 558.2 L820.3 550.6 L820.4 553.9 L821.3 552.7 L822.3 554.1 L822.4 551 L823.3 547.4 L824.3 546 L824.8 548.1 L825.3 544.7 L826.3 544 L827.1 545.2 L827.3 541 L828.3 542.3 L829.1 542.3 L829.3 538.9 L830.3 541.5 L831.1 540.8 L831.3 546 L832.3 540.1 L833.3 545.6 L833.5 543.7 L834.3 542.7 L834.9 537.9 L835.3 531.6 L836.3 533.9 L836.3 533.6 L837.3 533 L838.3 531.6 L838.7 532.1 L839.3 534.9 L840.3 533.6 L840.7 535 L841.3 539.7 L842.1 543.7 L842.3 542.5 L843.3 541.2 L844.3 537.9 L844.5 539.4 L845.3 542.5 L846.3 535.2 L846.5 535 L847.3 531.4 L848.3 536.7 L848.5 532.1 L849.3 536.1 L850.3 532.9 L850.8 533.6 L851.3 530.9 L852.3 528.2 L853.2 527.8 L853.3 530.8 L854.3 528.8 L855.2 530.7 L855.3 529.5 L856.3 535 L857.2 535 L857.3 534.3 L858.3 533.5 L859.3 536.6 L859.5 532.1 L860.3 537.6 L861.3 542.8 L861.8 542.3 L862.3 544.3 L863.3 548.3 L863.9 546.6 L864.3 545.2 L865.3 545.6 L865.9 542.3 L866.3 542.7 L867.3 535.4 L867.6 535 L868.3 530.7 L869.3 532.6 L869.7 530.7 L870.3 532.9 L871.3 538 L871.7 537.9 L872.3 534.4 L873.3 533.6 L873.4 532.1 L874.3 548 L874.6 549.5 L875.3 562.3 L876.3 566.9 L876.3 571 L877.3 578 L877.5 578.5 L878.3 574.5 L879.2 564 L879.3 563.6 L880.3 575 L880.4 572.7 L881.3 566.6 L882.1 561.1 L882.3 565.6 L883.3 570.6 L884.1 575.6 L884.3 574.3 L885.3 568.9 L886.2 566.9 L886.3 570.9 L887.3 575.8 L888.3 584.7 L888.5 584.3 L889.3 575.1 L889.9 566.9 L890.3 560.8 L891.3 562.6 L891.4 561.1 L892.3 556.5 L892.8 555.3 L893.3 553.7 L894.3 548.1 L894.3 549.1 L895.3 542.8 L896.3 544.8 L896.6 545.2 L897.3 546.6 L898.3 549.8 L898.6 549.5 L899.3 557.7 L900.3 562.7 L900.7 566.9 L901.3 568.1 L902.3 572.5 L902.4 571.3 L903.3 554.2 L903.6 555.3 L904.3 556.8 L905.3 549.5 L905.3 547.7 L906.3 556.9 L907.3 558.2 L907.3 558.4 L908.3 557.2 L908.8 551 L909.3 551.5 L910.2 546.6 L910.3 546.2 L911.3 539.7 L912.2 540.8 L912.3 540.9 L913.3 538.8 L914 536.5 L914.3 537.9 L915.3 534.7 L916 537.9 L916.3 534.8 L917.3 530.9 L917.5 532.1 L918.3 531.7 L919.3 527.9 L919.8 529.2 L920.3 528.2 L921.3 529 L921.8 526.3 L922.3 524.7 L923.3 527.1 L923.8 523.5 L924.3 522.4 L925.3 517.9 L925.6 517.7 L926.3 520.1 L927.3 518.7 L927.6 517.7" fill="none" stroke="#f20d0d" stroke-width="3" stroke-linejoin="round" stroke-linecap="round"/>
<path d="M594.3 640.8 C594.7 638.6 595.6 633.3 596.4 627.7 C597.1 622.2 598 614.2 598.7 607.5 C599.4 600.7 599.7 592.5 600.4 587.2 C601.2 581.9 602.3 579.9 603 575.6 C603.8 571.3 604.4 566.2 605.1 561.1 C605.7 556 606.3 545.9 606.8 545.2 C607.3 544.5 607.5 552.7 608 556.8 C608.4 560.9 609.1 564.3 609.7 569.8 C610.3 575.4 611.1 582.8 611.7 590.1 C612.4 597.3 613.1 606 613.8 613.3 C614.4 620.5 614.9 626.8 615.5 633.5 C616.1 640.3 616.8 649.7 617.5 653.8 C618.2 657.9 618.8 657.9 619.5 658.2 C620.3 658.4 621.1 658.9 621.9 655.3 C622.6 651.6 623.5 642.5 624.2 636.4 C624.9 630.4 625.6 624.4 626.2 619 C626.8 613.7 627 607.2 627.7 604.6 C628.3 601.9 629.3 602.6 630 603.1 C630.7 603.6 631.4 603.8 632 607.5 C632.6 611.1 632.8 618.6 633.5 624.8 C634.1 631.1 635 639.3 635.8 645.1 C636.5 650.9 637.2 656.2 637.8 659.6 C638.4 663 638.8 666.4 639.2 665.4 C639.7 664.4 640.1 659.6 640.7 653.8 C641.3 648 642.1 637.9 642.7 630.6 C643.4 623.4 643.8 616.4 644.5 610.4 C645.1 604.3 645.9 595.9 646.5 594.4 C647.1 593 647.5 598.5 647.9 601.7 C648.4 604.8 648.8 609.9 649.4 613.3 C650 616.6 650.8 619.3 651.4 621.9 C652 624.6 652.5 628.7 653.2 629.2 C653.8 629.7 654.5 627.7 655.2 624.8 C655.9 621.9 656.6 614.7 657.2 611.8 C657.8 608.9 658.3 606.7 658.9 607.5 C659.6 608.2 660.4 613.7 661 616.2 C661.6 618.6 661.9 620.5 662.4 621.9 C662.9 623.4 663.3 625.3 663.9 624.8 C664.4 624.4 665.3 619.5 665.9 619 C666.5 618.6 667.2 619.5 667.6 621.9 C668.1 624.4 668.3 629.7 668.8 633.5 C669.3 637.4 669.9 640.8 670.5 645.1 C671.2 649.5 671.9 655.5 672.6 659.6 C673.2 663.7 674 668.8 674.6 669.7 C675.2 670.7 675.7 668.5 676.3 665.4 C677 662.3 677.7 656.7 678.4 650.9 C679 645.1 679.8 637.9 680.4 630.6 C681 623.4 681.6 613 682.1 607.5 C682.6 601.9 682.7 599 683.3 597.3 C683.9 595.6 684.8 597.8 685.6 597.3 C686.4 596.8 687.3 596.1 687.9 594.4 C688.5 592.7 688.8 586.9 689.4 587.2 C689.9 587.4 690.7 593.7 691.4 595.9 C692.1 598 693 598.3 693.7 600.2 C694.4 602.2 695.1 605 695.7 607.5 C696.4 609.9 697 613.3 697.8 614.7 C698.5 616.2 699.5 613.5 700.1 616.2 C700.7 618.8 701 627 701.5 630.6 C702.1 634.3 702.9 637.9 703.6 637.9 C704.2 637.9 704.7 635.2 705.3 630.6 C705.9 626.1 706.6 616.9 707.3 610.4 C708 603.8 708.6 596.1 709.4 591.5 C710.1 586.9 710.9 582.8 711.7 582.8 C712.4 582.8 713.3 588.4 714 591.5 C714.7 594.7 715.3 598 716 601.7 C716.7 605.3 717.4 612.3 718 613.3 C718.7 614.2 719.2 609.9 719.8 607.5 C720.4 605 721.1 600.9 721.8 598.8 C722.5 596.6 723.1 595.9 723.8 594.4 C724.6 593 725.4 589.8 726.2 590.1 C726.9 590.3 727.7 593.2 728.5 595.9 C729.2 598.5 729.8 604.6 730.5 606 C731.2 607.5 731.9 604.1 732.5 604.6 C733.2 605 733.6 610.4 734.3 608.9 C734.9 607.5 735.6 600.9 736.3 595.9 C737 590.8 737.7 582.4 738.3 578.5 C738.9 574.6 739.4 575.1 740.1 572.7 C740.7 570.3 741.4 568.1 742.1 564 C742.8 559.9 743.5 551.2 744.1 548.1 C744.7 544.9 745.2 544.9 745.9 545.2 C746.5 545.4 747.3 546.4 747.9 549.5 C748.5 552.7 748.8 558.7 749.3 564 C749.8 569.3 750.2 577 750.8 581.4 C751.4 585.7 752.2 589.8 752.8 590.1 C753.4 590.3 753.9 586.7 754.5 582.8 C755.2 579 755.9 572 756.6 566.9 C757.2 561.8 757.9 555.6 758.6 552.4 C759.3 549.3 760.1 548.6 760.9 548.1 C761.7 547.6 762.5 548.3 763.2 549.5 C764 550.7 764.6 553.6 765.3 555.3 C765.9 557 766.6 559.7 767.3 559.7 C768 559.7 768.8 556.3 769.6 555.3 C770.4 554.4 771.2 552.7 771.9 553.9 C772.6 555.1 773.3 558.5 774 562.6 C774.6 566.7 775.4 572.9 776 578.5 C776.6 584 777.1 591.8 777.7 595.9 C778.3 600 779.1 602.9 779.7 603.1 C780.4 603.4 781.1 598.8 781.8 597.3 C782.4 595.9 782.9 593.7 783.5 594.4 C784.1 595.2 784.9 598.8 785.5 601.7 C786.2 604.6 786.9 609.9 787.6 611.8 C788.2 613.7 788.9 613 789.3 613.3 C789.7 613.5 789.5 617.1 790 613.3 C790.5 609.4 791.6 595.9 792.3 590.1 C793 584.3 793.7 577.5 794.3 578.5 C795 579.5 795.7 592.3 796.4 595.9 C797 599.5 797.5 601.7 798.1 600.2 C798.7 598.8 799.5 592.3 800.1 587.2 C800.8 582.1 801.4 575.8 802.2 569.8 C802.9 563.8 803.7 556.3 804.5 551 C805.3 545.7 806.1 540.6 806.8 537.9 C807.5 535.3 808.2 535.8 808.8 535 C809.5 534.3 810.1 533.7 810.9 533.6 C811.6 533.5 812.4 533.7 813.2 534.5 C813.9 535.2 814.6 536.6 815.5 537.9 C816.4 539.2 817.6 542.5 818.4 542.3 C819.2 542 819.7 539.1 820.4 536.5 C821.1 533.8 821.7 530.2 822.4 526.3 C823.2 522.5 824 516.3 824.8 513.3 C825.5 510.3 826.4 509.1 827.1 508.4 C827.8 507.7 828.5 507.9 829.1 509 C829.7 510 829.9 511.6 830.6 514.8 C831.2 517.9 832.1 523.9 832.9 527.8 C833.6 531.7 834.2 534.8 834.9 537.9 C835.6 541.1 836.2 544.7 836.9 546.6 C837.7 548.6 838.5 548.3 839.2 549.5 C840 550.7 840.8 551 841.6 553.9 C842.3 556.8 843 563.3 843.6 566.9 C844.2 570.5 844.4 575.1 845 575.6 C845.7 576.1 846.6 572.5 847.4 569.8 C848.1 567.1 848.7 562.1 849.4 559.7 C850.1 557.2 850.7 556 851.4 555.3 C852.1 554.6 853 554.6 853.7 555.3 C854.5 556 855.3 556.3 856 559.7 C856.8 563 857.4 570.5 858.1 575.6 C858.8 580.7 859.4 585.7 860.1 590.1 C860.8 594.4 861.8 599.3 862.4 601.7 C863 604.1 863.3 605.5 863.9 604.6 C864.4 603.6 865.2 600.2 865.9 595.9 C866.6 591.5 867.4 584.3 868.2 578.5 C869 572.7 869.8 565.7 870.5 561.1 C871.3 556.5 872 552.9 872.6 551 C873.1 549 873.5 547.4 874 549.5 C874.5 551.7 875 558.7 875.5 564 C875.9 569.3 876.4 576.1 876.9 581.4 C877.4 586.7 877.8 592 878.4 595.9 C878.9 599.7 879.8 602.9 880.4 604.6 C881 606.3 881.5 607.5 882.1 606 C882.7 604.6 883.5 596.6 884.1 595.9 C884.8 595.2 885.5 598.8 886.2 601.7 C886.9 604.6 887.9 610.3 888.5 613.3 C889.1 616.2 889.4 619.1 889.9 619.6 C890.5 620.1 891.3 619.1 892 616.2 C892.6 613.2 893.1 607.9 893.7 601.7 C894.3 595.4 895.1 585.7 895.7 578.5 C896.4 571.3 897.1 563.3 897.8 558.2 C898.4 553.1 898.9 548.6 899.5 548.1 C900.1 547.6 900.9 552.2 901.5 555.3 C902.2 558.5 902.8 563.5 903.6 566.9 C904.3 570.3 905.2 573.9 905.9 575.6 C906.5 577.3 906.7 578.5 907.3 577 C907.9 575.6 908.7 572.5 909.4 566.9 C910 561.4 910.5 551.5 911.1 543.7 C911.7 536 912.4 526.3 913.1 520.6 C913.8 514.8 914.5 511.3 915.1 509 C915.8 506.7 916.3 506.7 916.9 506.7 C917.5 506.7 918.3 507.4 918.9 509 C919.5 510.6 919.7 513.3 920.4 516.2 C921 519.1 922 523.5 922.7 526.3 C923.4 529.2 924 531.4 924.7 533.6 C925.4 535.8 926.4 538.4 926.7 539.4" fill="none" stroke="#1010dc" stroke-width="2.3" stroke-linejoin="round" stroke-linecap="round"/>
<path d="M940.5 519L944.5 515H965V523H944.5Z" fill="#ee3a3a"/>
<text x="945.5" y="521.3" font-size="6" fill="#ffd0d0" text-anchor="start" font-weight="normal" textLength="18" lengthAdjust="spacingAndGlyphs">96.50</text>
<path d="M966 540.8L970.5 536.5H988V545H970.5Z" fill="#2a2ae0"/>
<text x="971.5" y="543" font-size="6" fill="#c8c8ff" text-anchor="start" font-weight="normal" textLength="18" lengthAdjust="spacingAndGlyphs">-27.4</text>
<text x="840.5" y="522.3" font-size="12" fill="#e22828" text-anchor="start" font-weight="normal" textLength="69" lengthAdjust="spacingAndGlyphs">S&amp;P 500</text>
<text x="775.6" y="632.2" font-size="10.8" fill="#5c62b4" text-anchor="start" font-weight="normal" textLength="111.5" lengthAdjust="spacingAndGlyphs">AAII % Bearish</text>
<text x="772" y="644.6" font-size="10.8" fill="#5c62b4" text-anchor="start" font-weight="normal" textLength="119.7" lengthAdjust="spacingAndGlyphs">5 Week Average</text>
<text x="792" y="656.9" font-size="10.8" fill="#5c62b4" text-anchor="start" font-weight="normal" textLength="79.5" lengthAdjust="spacingAndGlyphs">(Inverted)</text>
</svg></div>
<div class="src" id="s4" style="left:579.6px;top:703.7px;"><b>Source:</b> Bloomberg</div>

<div class="logo">Morgan Stanley</div>
</div>
<div class="botline"><i></i></div>
<div class="redge"></div>
</body>
</html>
